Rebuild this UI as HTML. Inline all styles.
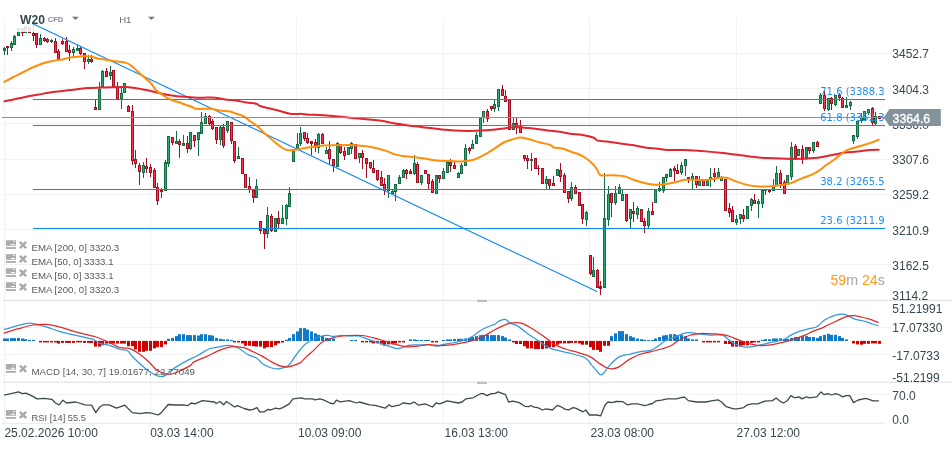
<!DOCTYPE html>
<html><head><meta charset="utf-8"><title>W20 CFD H1</title>
<style>
html,body{margin:0;padding:0;background:#fff;}
body{width:952px;height:449px;overflow:hidden;position:relative;font-family:"Liberation Sans",sans-serif;}
</style></head><body>
<svg width="952" height="449" viewBox="0 0 952 449" style="position:absolute;left:0;top:0;will-change:transform">
<rect width="952" height="449" fill="#fff"/>
<g stroke="#f0f2f4" stroke-width="1" shape-rendering="crispEdges">
<line x1="2" x2="891" y1="53.5" y2="53.5"/>
<line x1="2" x2="891" y1="88.5" y2="88.5"/>
<line x1="2" x2="891" y1="123.5" y2="123.5"/>
<line x1="2" x2="891" y1="159.5" y2="159.5"/>
<line x1="2" x2="891" y1="194.5" y2="194.5"/>
<line x1="2" x2="891" y1="229.5" y2="229.5"/>
<line x1="2" x2="891" y1="264.5" y2="264.5"/>
<line x1="4.5" x2="4.5" y1="18" y2="426.5"/>
<line x1="150.5" x2="150.5" y1="18" y2="426.5"/>
<line x1="296.5" x2="296.5" y1="18" y2="426.5"/>
<line x1="443.5" x2="443.5" y1="18" y2="426.5"/>
<line x1="589.5" x2="589.5" y1="18" y2="426.5"/>
<line x1="736.5" x2="736.5" y1="18" y2="426.5"/>
<line x1="2" x2="889.5" y1="327.5" y2="327.5"/>
<line x1="2" x2="889.5" y1="354.5" y2="354.5"/>
<line x1="2" x2="891" y1="394.5" y2="394.5"/>
</g>
<g fill="#dcdfe1">
<rect x="3" y="299.9" width="952" height="1"/>
<rect x="3" y="381.7" width="952" height="1"/>
<rect x="2" y="422.8" width="883.5" height="1.1" fill="#eaecee"/>
<rect x="477" y="299.8" width="10" height="2.2" fill="#bdbdbd"/>
<rect x="477" y="381.8" width="10" height="2.1" fill="#bdbdbd"/>
</g>
<g shape-rendering="crispEdges">
<rect x="4.0" y="47.10" width="1" height="7.60" fill="#146c43"/>
<rect x="3.0" y="47.50" width="3" height="3.40" fill="#146c43"/>
<rect x="4.0" y="48.50" width="1" height="1.40" fill="#27ad72"/>
<rect x="7.0" y="46.20" width="1" height="8.50" fill="#a50f24"/>
<rect x="6.0" y="46.20" width="3" height="2.20" fill="#a50f24"/>
<rect x="11.0" y="41.20" width="1" height="9.40" fill="#146c43"/>
<rect x="10.0" y="42.70" width="3" height="5.00" fill="#146c43"/>
<rect x="11.0" y="43.70" width="1" height="3.00" fill="#27ad72"/>
<rect x="14.0" y="35.10" width="1" height="10.10" fill="#146c43"/>
<rect x="13.0" y="35.80" width="3" height="9.40" fill="#146c43"/>
<rect x="14.0" y="36.80" width="1" height="7.40" fill="#27ad72"/>
<rect x="18.0" y="28.20" width="1" height="8.20" fill="#146c43"/>
<rect x="17.0" y="28.20" width="3" height="8.20" fill="#146c43"/>
<rect x="18.0" y="29.20" width="1" height="6.20" fill="#27ad72"/>
<rect x="22.0" y="28.20" width="1" height="7.60" fill="#a50f24"/>
<rect x="21.0" y="28.20" width="3" height="5.00" fill="#a50f24"/>
<rect x="22.0" y="29.20" width="1" height="3.00" fill="#ff2f47"/>
<rect x="25.0" y="26.30" width="1" height="6.90" fill="#146c43"/>
<rect x="24.0" y="26.30" width="3" height="6.90" fill="#146c43"/>
<rect x="25.0" y="27.30" width="1" height="4.90" fill="#27ad72"/>
<rect x="29.0" y="27.00" width="1" height="5.60" fill="#a50f24"/>
<rect x="28.0" y="27.00" width="3" height="5.60" fill="#a50f24"/>
<rect x="29.0" y="28.00" width="1" height="3.60" fill="#ff2f47"/>
<rect x="33.0" y="25.00" width="1" height="16.40" fill="#a50f24"/>
<rect x="32.0" y="32.60" width="3" height="3.20" fill="#a50f24"/>
<rect x="33.0" y="33.60" width="1" height="1.20" fill="#ff2f47"/>
<rect x="36.0" y="33.20" width="1" height="14.50" fill="#a50f24"/>
<rect x="35.0" y="33.20" width="3" height="11.40" fill="#a50f24"/>
<rect x="36.0" y="34.20" width="1" height="9.40" fill="#ff2f47"/>
<rect x="40.0" y="34.10" width="1" height="11.10" fill="#146c43"/>
<rect x="39.0" y="38.30" width="3" height="6.90" fill="#146c43"/>
<rect x="40.0" y="39.30" width="1" height="4.90" fill="#27ad72"/>
<rect x="44.0" y="37.00" width="1" height="4.50" fill="#a50f24"/>
<rect x="43.0" y="38.00" width="3" height="3.20" fill="#a50f24"/>
<rect x="44.0" y="39.00" width="1" height="1.20" fill="#ff2f47"/>
<rect x="47.0" y="37.70" width="1" height="5.00" fill="#a50f24"/>
<rect x="46.0" y="38.90" width="3" height="3.50" fill="#a50f24"/>
<rect x="47.0" y="39.90" width="1" height="1.50" fill="#ff2f47"/>
<rect x="51.0" y="38.90" width="1" height="3.80" fill="#146c43"/>
<rect x="50.0" y="39.90" width="3" height="2.50" fill="#146c43"/>
<rect x="51.0" y="40.90" width="1" height="0.50" fill="#27ad72"/>
<rect x="55.0" y="38.30" width="1" height="15.10" fill="#a50f24"/>
<rect x="54.0" y="40.80" width="3" height="12.60" fill="#a50f24"/>
<rect x="55.0" y="41.80" width="1" height="10.60" fill="#ff2f47"/>
<rect x="58.0" y="49.00" width="1" height="10.70" fill="#a50f24"/>
<rect x="57.0" y="50.90" width="3" height="8.80" fill="#a50f24"/>
<rect x="58.0" y="51.90" width="1" height="6.80" fill="#ff2f47"/>
<rect x="62.0" y="38.90" width="1" height="5.70" fill="#a50f24"/>
<rect x="61.0" y="40.80" width="3" height="3.20" fill="#a50f24"/>
<rect x="62.0" y="41.80" width="1" height="1.20" fill="#ff2f47"/>
<rect x="66.0" y="37.00" width="1" height="14.50" fill="#a50f24"/>
<rect x="65.0" y="40.80" width="3" height="10.70" fill="#a50f24"/>
<rect x="66.0" y="41.80" width="1" height="8.70" fill="#ff2f47"/>
<rect x="69.0" y="45.20" width="1" height="15.40" fill="#a50f24"/>
<rect x="68.0" y="50.30" width="3" height="3.10" fill="#a50f24"/>
<rect x="69.0" y="51.30" width="1" height="1.10" fill="#ff2f47"/>
<rect x="73.0" y="47.10" width="1" height="9.70" fill="#146c43"/>
<rect x="72.0" y="48.80" width="3" height="4.60" fill="#146c43"/>
<rect x="73.0" y="49.80" width="1" height="2.60" fill="#27ad72"/>
<rect x="77.0" y="45.20" width="1" height="5.40" fill="#146c43"/>
<rect x="76.0" y="48.00" width="3" height="2.60" fill="#146c43"/>
<rect x="77.0" y="49.00" width="1" height="0.60" fill="#27ad72"/>
<rect x="80.0" y="46.50" width="1" height="8.20" fill="#a50f24"/>
<rect x="79.0" y="47.50" width="3" height="6.50" fill="#a50f24"/>
<rect x="80.0" y="48.50" width="1" height="4.50" fill="#ff2f47"/>
<rect x="84.0" y="52.50" width="1" height="16.00" fill="#a50f24"/>
<rect x="83.0" y="52.50" width="3" height="9.10" fill="#a50f24"/>
<rect x="84.0" y="53.50" width="1" height="7.10" fill="#ff2f47"/>
<rect x="88.0" y="55.30" width="1" height="8.20" fill="#146c43"/>
<rect x="87.0" y="59.10" width="3" height="3.10" fill="#146c43"/>
<rect x="88.0" y="60.10" width="1" height="1.10" fill="#27ad72"/>
<rect x="91.0" y="55.30" width="1" height="7.60" fill="#a50f24"/>
<rect x="90.0" y="59.10" width="3" height="2.50" fill="#a50f24"/>
<rect x="91.0" y="60.10" width="1" height="0.50" fill="#ff2f47"/>
<rect x="95.0" y="100.30" width="1" height="9.30" fill="#a50f24"/>
<rect x="94.0" y="106.50" width="3" height="3.10" fill="#a50f24"/>
<rect x="95.0" y="107.50" width="1" height="1.10" fill="#ff2f47"/>
<rect x="99.0" y="82.10" width="1" height="27.50" fill="#146c43"/>
<rect x="98.0" y="89.00" width="3" height="20.60" fill="#146c43"/>
<rect x="99.0" y="90.00" width="1" height="18.60" fill="#27ad72"/>
<rect x="102.0" y="70.00" width="1" height="17.10" fill="#146c43"/>
<rect x="101.0" y="70.90" width="3" height="16.20" fill="#146c43"/>
<rect x="102.0" y="71.90" width="1" height="14.20" fill="#27ad72"/>
<rect x="106.0" y="68.00" width="1" height="8.50" fill="#a50f24"/>
<rect x="105.0" y="71.30" width="3" height="5.20" fill="#a50f24"/>
<rect x="106.0" y="72.30" width="1" height="3.20" fill="#ff2f47"/>
<rect x="110.0" y="65.90" width="1" height="13.70" fill="#146c43"/>
<rect x="109.0" y="71.50" width="3" height="4.00" fill="#146c43"/>
<rect x="110.0" y="72.50" width="1" height="2.00" fill="#27ad72"/>
<rect x="113.0" y="70.30" width="1" height="16.80" fill="#a50f24"/>
<rect x="112.0" y="70.30" width="3" height="16.80" fill="#a50f24"/>
<rect x="113.0" y="71.30" width="1" height="14.80" fill="#ff2f47"/>
<rect x="117.0" y="82.10" width="1" height="16.90" fill="#a50f24"/>
<rect x="116.0" y="85.90" width="3" height="13.10" fill="#a50f24"/>
<rect x="117.0" y="86.90" width="1" height="11.10" fill="#ff2f47"/>
<rect x="121.0" y="87.80" width="1" height="21.00" fill="#146c43"/>
<rect x="120.0" y="92.50" width="3" height="6.50" fill="#146c43"/>
<rect x="121.0" y="93.50" width="1" height="4.50" fill="#27ad72"/>
<rect x="124.0" y="82.50" width="1" height="10.90" fill="#146c43"/>
<rect x="123.0" y="82.50" width="3" height="10.90" fill="#146c43"/>
<rect x="124.0" y="83.50" width="1" height="8.90" fill="#27ad72"/>
<rect x="128.0" y="105.00" width="1" height="6.90" fill="#a50f24"/>
<rect x="127.0" y="105.60" width="3" height="6.30" fill="#a50f24"/>
<rect x="128.0" y="106.60" width="1" height="4.30" fill="#ff2f47"/>
<rect x="132.0" y="105.30" width="1" height="59.70" fill="#a50f24"/>
<rect x="131.0" y="111.30" width="3" height="49.30" fill="#a50f24"/>
<rect x="132.0" y="112.30" width="1" height="47.30" fill="#ff2f47"/>
<rect x="135.0" y="150.00" width="1" height="17.50" fill="#a50f24"/>
<rect x="134.0" y="159.40" width="3" height="5.00" fill="#a50f24"/>
<rect x="135.0" y="160.40" width="1" height="3.00" fill="#ff2f47"/>
<rect x="139.0" y="163.10" width="1" height="21.65" fill="#a50f24"/>
<rect x="138.0" y="165.00" width="3" height="6.90" fill="#a50f24"/>
<rect x="139.0" y="166.00" width="1" height="4.90" fill="#ff2f47"/>
<rect x="143.0" y="162.25" width="1" height="15.50" fill="#146c43"/>
<rect x="142.0" y="165.25" width="3" height="7.50" fill="#146c43"/>
<rect x="143.0" y="166.25" width="1" height="5.50" fill="#27ad72"/>
<rect x="146.0" y="158.10" width="1" height="14.65" fill="#a50f24"/>
<rect x="145.0" y="165.60" width="3" height="3.15" fill="#a50f24"/>
<rect x="146.0" y="166.60" width="1" height="1.15" fill="#ff2f47"/>
<rect x="150.0" y="164.00" width="1" height="12.90" fill="#a50f24"/>
<rect x="149.0" y="167.25" width="3" height="5.25" fill="#a50f24"/>
<rect x="150.0" y="168.25" width="1" height="3.25" fill="#ff2f47"/>
<rect x="154.0" y="168.10" width="1" height="19.40" fill="#a50f24"/>
<rect x="153.0" y="170.00" width="3" height="17.50" fill="#a50f24"/>
<rect x="154.0" y="171.00" width="1" height="15.50" fill="#ff2f47"/>
<rect x="157.0" y="183.10" width="1" height="21.65" fill="#a50f24"/>
<rect x="156.0" y="186.50" width="3" height="14.10" fill="#a50f24"/>
<rect x="157.0" y="187.50" width="1" height="12.10" fill="#ff2f47"/>
<rect x="161.0" y="188.10" width="1" height="9.65" fill="#a50f24"/>
<rect x="160.0" y="189.75" width="3" height="1.75" fill="#a50f24"/>
<rect x="165.0" y="160.25" width="1" height="30.35" fill="#146c43"/>
<rect x="164.0" y="162.25" width="3" height="28.35" fill="#146c43"/>
<rect x="165.0" y="163.25" width="1" height="26.35" fill="#27ad72"/>
<rect x="168.0" y="136.25" width="1" height="30.65" fill="#146c43"/>
<rect x="167.0" y="136.25" width="3" height="28.15" fill="#146c43"/>
<rect x="168.0" y="137.25" width="1" height="26.15" fill="#27ad72"/>
<rect x="172.0" y="137.25" width="1" height="7.50" fill="#a50f24"/>
<rect x="171.0" y="137.25" width="3" height="5.50" fill="#a50f24"/>
<rect x="172.0" y="138.25" width="1" height="3.50" fill="#ff2f47"/>
<rect x="176.0" y="131.00" width="1" height="12.75" fill="#146c43"/>
<rect x="175.0" y="141.25" width="3" height="2.50" fill="#146c43"/>
<rect x="176.0" y="142.25" width="1" height="0.50" fill="#27ad72"/>
<rect x="179.0" y="139.00" width="1" height="18.75" fill="#a50f24"/>
<rect x="178.0" y="141.00" width="3" height="3.75" fill="#a50f24"/>
<rect x="179.0" y="142.00" width="1" height="1.75" fill="#ff2f47"/>
<rect x="183.0" y="135.00" width="1" height="10.60" fill="#146c43"/>
<rect x="182.0" y="143.10" width="3" height="2.50" fill="#146c43"/>
<rect x="183.0" y="144.10" width="1" height="0.50" fill="#27ad72"/>
<rect x="187.0" y="136.25" width="1" height="16.25" fill="#a50f24"/>
<rect x="186.0" y="143.10" width="3" height="5.65" fill="#a50f24"/>
<rect x="187.0" y="144.10" width="1" height="3.65" fill="#ff2f47"/>
<rect x="190.0" y="132.25" width="1" height="17.50" fill="#146c43"/>
<rect x="189.0" y="132.25" width="3" height="16.50" fill="#146c43"/>
<rect x="190.0" y="133.25" width="1" height="14.50" fill="#27ad72"/>
<rect x="194.0" y="135.25" width="1" height="11.65" fill="#a50f24"/>
<rect x="193.0" y="135.25" width="3" height="5.35" fill="#a50f24"/>
<rect x="194.0" y="136.25" width="1" height="3.35" fill="#ff2f47"/>
<rect x="198.0" y="132.25" width="1" height="23.35" fill="#146c43"/>
<rect x="197.0" y="132.25" width="3" height="7.50" fill="#146c43"/>
<rect x="198.0" y="133.25" width="1" height="5.50" fill="#27ad72"/>
<rect x="201.0" y="111.90" width="1" height="21.60" fill="#146c43"/>
<rect x="200.0" y="122.25" width="3" height="11.25" fill="#146c43"/>
<rect x="201.0" y="123.25" width="1" height="9.25" fill="#27ad72"/>
<rect x="205.0" y="113.10" width="1" height="10.65" fill="#146c43"/>
<rect x="204.0" y="116.25" width="3" height="7.50" fill="#146c43"/>
<rect x="205.0" y="117.25" width="1" height="5.50" fill="#27ad72"/>
<rect x="209.0" y="115.00" width="1" height="10.00" fill="#a50f24"/>
<rect x="208.0" y="116.00" width="3" height="7.75" fill="#a50f24"/>
<rect x="209.0" y="117.00" width="1" height="5.75" fill="#ff2f47"/>
<rect x="212.0" y="119.00" width="1" height="11.00" fill="#a50f24"/>
<rect x="211.0" y="121.25" width="3" height="8.15" fill="#a50f24"/>
<rect x="212.0" y="122.25" width="1" height="6.15" fill="#ff2f47"/>
<rect x="216.0" y="127.25" width="1" height="16.50" fill="#a50f24"/>
<rect x="215.0" y="127.25" width="3" height="12.75" fill="#a50f24"/>
<rect x="216.0" y="128.25" width="1" height="10.75" fill="#ff2f47"/>
<rect x="220.0" y="125.60" width="1" height="19.40" fill="#146c43"/>
<rect x="219.0" y="127.25" width="3" height="12.50" fill="#146c43"/>
<rect x="220.0" y="128.25" width="1" height="10.50" fill="#27ad72"/>
<rect x="223.0" y="124.40" width="1" height="23.35" fill="#a50f24"/>
<rect x="222.0" y="127.25" width="3" height="18.35" fill="#a50f24"/>
<rect x="223.0" y="128.25" width="1" height="16.35" fill="#ff2f47"/>
<rect x="227.0" y="121.25" width="1" height="11.50" fill="#146c43"/>
<rect x="226.0" y="121.25" width="3" height="9.35" fill="#146c43"/>
<rect x="227.0" y="122.25" width="1" height="7.35" fill="#27ad72"/>
<rect x="231.0" y="122.25" width="1" height="21.50" fill="#a50f24"/>
<rect x="230.0" y="122.25" width="3" height="19.00" fill="#a50f24"/>
<rect x="231.0" y="123.25" width="1" height="17.00" fill="#ff2f47"/>
<rect x="234.0" y="141.25" width="1" height="21.25" fill="#a50f24"/>
<rect x="233.0" y="141.25" width="3" height="19.35" fill="#a50f24"/>
<rect x="234.0" y="142.25" width="1" height="17.35" fill="#ff2f47"/>
<rect x="238.0" y="147.25" width="1" height="12.15" fill="#146c43"/>
<rect x="237.0" y="156.25" width="3" height="3.15" fill="#146c43"/>
<rect x="238.0" y="157.25" width="1" height="1.15" fill="#27ad72"/>
<rect x="242.0" y="157.50" width="1" height="16.90" fill="#a50f24"/>
<rect x="241.0" y="157.50" width="3" height="16.90" fill="#a50f24"/>
<rect x="242.0" y="158.50" width="1" height="14.90" fill="#ff2f47"/>
<rect x="245.0" y="173.50" width="1" height="14.00" fill="#a50f24"/>
<rect x="244.0" y="173.50" width="3" height="14.00" fill="#a50f24"/>
<rect x="245.0" y="174.50" width="1" height="12.00" fill="#ff2f47"/>
<rect x="249.0" y="177.25" width="1" height="15.25" fill="#a50f24"/>
<rect x="248.0" y="186.25" width="3" height="3.50" fill="#a50f24"/>
<rect x="249.0" y="187.25" width="1" height="1.50" fill="#ff2f47"/>
<rect x="253.0" y="190.00" width="1" height="12.50" fill="#a50f24"/>
<rect x="252.0" y="190.00" width="3" height="7.50" fill="#a50f24"/>
<rect x="253.0" y="191.00" width="1" height="5.50" fill="#ff2f47"/>
<rect x="256.0" y="179.40" width="1" height="18.10" fill="#146c43"/>
<rect x="255.0" y="185.60" width="3" height="11.90" fill="#146c43"/>
<rect x="256.0" y="186.60" width="1" height="9.90" fill="#27ad72"/>
<rect x="260.0" y="221.25" width="1" height="12.50" fill="#a50f24"/>
<rect x="259.0" y="221.25" width="3" height="9.35" fill="#a50f24"/>
<rect x="260.0" y="222.25" width="1" height="7.35" fill="#ff2f47"/>
<rect x="264.0" y="229.40" width="1" height="19.35" fill="#a50f24"/>
<rect x="263.0" y="229.40" width="3" height="5.00" fill="#a50f24"/>
<rect x="264.0" y="230.40" width="1" height="3.00" fill="#ff2f47"/>
<rect x="267.0" y="206.90" width="1" height="30.60" fill="#146c43"/>
<rect x="266.0" y="215.00" width="3" height="19.40" fill="#146c43"/>
<rect x="267.0" y="216.00" width="1" height="17.40" fill="#27ad72"/>
<rect x="271.0" y="214.00" width="1" height="17.90" fill="#a50f24"/>
<rect x="270.0" y="216.25" width="3" height="14.35" fill="#a50f24"/>
<rect x="271.0" y="217.25" width="1" height="12.35" fill="#ff2f47"/>
<rect x="275.0" y="217.50" width="1" height="14.00" fill="#146c43"/>
<rect x="274.0" y="217.50" width="3" height="14.00" fill="#146c43"/>
<rect x="275.0" y="218.50" width="1" height="12.00" fill="#27ad72"/>
<rect x="278.0" y="211.00" width="1" height="16.75" fill="#a50f24"/>
<rect x="277.0" y="217.50" width="3" height="6.90" fill="#a50f24"/>
<rect x="278.0" y="218.50" width="1" height="4.90" fill="#ff2f47"/>
<rect x="282.0" y="205.00" width="1" height="19.40" fill="#146c43"/>
<rect x="281.0" y="218.10" width="3" height="6.30" fill="#146c43"/>
<rect x="282.0" y="219.10" width="1" height="4.30" fill="#27ad72"/>
<rect x="286.0" y="204.00" width="1" height="20.75" fill="#146c43"/>
<rect x="285.0" y="205.25" width="3" height="14.15" fill="#146c43"/>
<rect x="286.0" y="206.25" width="1" height="12.15" fill="#27ad72"/>
<rect x="289.0" y="187.25" width="1" height="19.25" fill="#146c43"/>
<rect x="288.0" y="192.50" width="3" height="14.00" fill="#146c43"/>
<rect x="289.0" y="193.50" width="1" height="12.00" fill="#27ad72"/>
<rect x="293.0" y="149.40" width="1" height="12.10" fill="#146c43"/>
<rect x="292.0" y="149.40" width="3" height="12.10" fill="#146c43"/>
<rect x="293.0" y="150.40" width="1" height="10.10" fill="#27ad72"/>
<rect x="297.0" y="133.10" width="1" height="16.30" fill="#146c43"/>
<rect x="296.0" y="143.50" width="3" height="5.90" fill="#146c43"/>
<rect x="297.0" y="144.50" width="1" height="3.90" fill="#27ad72"/>
<rect x="300.0" y="127.25" width="1" height="19.00" fill="#146c43"/>
<rect x="299.0" y="132.50" width="3" height="11.90" fill="#146c43"/>
<rect x="300.0" y="133.50" width="1" height="9.90" fill="#27ad72"/>
<rect x="304.0" y="132.25" width="1" height="8.35" fill="#a50f24"/>
<rect x="303.0" y="132.25" width="3" height="7.15" fill="#a50f24"/>
<rect x="304.0" y="133.25" width="1" height="5.15" fill="#ff2f47"/>
<rect x="307.0" y="133.10" width="1" height="10.40" fill="#a50f24"/>
<rect x="306.0" y="138.10" width="3" height="4.40" fill="#a50f24"/>
<rect x="307.0" y="139.10" width="1" height="2.40" fill="#ff2f47"/>
<rect x="311.0" y="141.25" width="1" height="13.50" fill="#a50f24"/>
<rect x="310.0" y="141.25" width="3" height="2.25" fill="#a50f24"/>
<rect x="315.0" y="139.00" width="1" height="12.50" fill="#a50f24"/>
<rect x="314.0" y="141.90" width="3" height="4.35" fill="#a50f24"/>
<rect x="315.0" y="142.90" width="1" height="2.35" fill="#ff2f47"/>
<rect x="318.0" y="132.75" width="1" height="19.75" fill="#146c43"/>
<rect x="317.0" y="133.75" width="3" height="14.35" fill="#146c43"/>
<rect x="318.0" y="134.75" width="1" height="12.35" fill="#27ad72"/>
<rect x="322.0" y="132.75" width="1" height="11.65" fill="#a50f24"/>
<rect x="321.0" y="133.75" width="3" height="10.65" fill="#a50f24"/>
<rect x="322.0" y="134.75" width="1" height="8.65" fill="#ff2f47"/>
<rect x="326.0" y="146.90" width="1" height="6.60" fill="#146c43"/>
<rect x="325.0" y="150.25" width="3" height="3.25" fill="#146c43"/>
<rect x="326.0" y="151.25" width="1" height="1.25" fill="#27ad72"/>
<rect x="329.0" y="141.00" width="1" height="22.75" fill="#a50f24"/>
<rect x="328.0" y="148.75" width="3" height="10.65" fill="#a50f24"/>
<rect x="329.0" y="149.75" width="1" height="8.65" fill="#ff2f47"/>
<rect x="333.0" y="159.00" width="1" height="12.90" fill="#a50f24"/>
<rect x="332.0" y="159.00" width="3" height="7.25" fill="#a50f24"/>
<rect x="333.0" y="160.00" width="1" height="5.25" fill="#ff2f47"/>
<rect x="337.0" y="141.90" width="1" height="25.35" fill="#146c43"/>
<rect x="336.0" y="143.10" width="3" height="24.15" fill="#146c43"/>
<rect x="337.0" y="144.10" width="1" height="22.15" fill="#27ad72"/>
<rect x="340.0" y="143.50" width="1" height="10.00" fill="#a50f24"/>
<rect x="339.0" y="143.50" width="3" height="9.00" fill="#a50f24"/>
<rect x="340.0" y="144.50" width="1" height="7.00" fill="#ff2f47"/>
<rect x="344.0" y="146.90" width="1" height="12.85" fill="#a50f24"/>
<rect x="343.0" y="151.25" width="3" height="4.75" fill="#a50f24"/>
<rect x="344.0" y="152.25" width="1" height="2.75" fill="#ff2f47"/>
<rect x="348.0" y="147.25" width="1" height="8.00" fill="#146c43"/>
<rect x="347.0" y="147.25" width="3" height="8.00" fill="#146c43"/>
<rect x="348.0" y="148.25" width="1" height="6.00" fill="#27ad72"/>
<rect x="351.0" y="141.90" width="1" height="11.85" fill="#146c43"/>
<rect x="350.0" y="143.10" width="3" height="6.30" fill="#146c43"/>
<rect x="351.0" y="144.10" width="1" height="4.30" fill="#27ad72"/>
<rect x="355.0" y="143.50" width="1" height="15.00" fill="#a50f24"/>
<rect x="354.0" y="143.50" width="3" height="15.00" fill="#a50f24"/>
<rect x="355.0" y="144.50" width="1" height="13.00" fill="#ff2f47"/>
<rect x="359.0" y="153.10" width="1" height="9.40" fill="#146c43"/>
<rect x="358.0" y="153.10" width="3" height="5.00" fill="#146c43"/>
<rect x="359.0" y="154.10" width="1" height="3.00" fill="#27ad72"/>
<rect x="362.0" y="150.00" width="1" height="18.75" fill="#a50f24"/>
<rect x="361.0" y="153.10" width="3" height="5.00" fill="#a50f24"/>
<rect x="362.0" y="154.10" width="1" height="3.00" fill="#ff2f47"/>
<rect x="366.0" y="157.50" width="1" height="20.25" fill="#a50f24"/>
<rect x="365.0" y="157.50" width="3" height="6.00" fill="#a50f24"/>
<rect x="366.0" y="158.50" width="1" height="4.00" fill="#ff2f47"/>
<rect x="370.0" y="162.25" width="1" height="7.15" fill="#a50f24"/>
<rect x="369.0" y="162.25" width="3" height="5.85" fill="#a50f24"/>
<rect x="370.0" y="163.25" width="1" height="3.85" fill="#ff2f47"/>
<rect x="373.0" y="160.00" width="1" height="12.50" fill="#a50f24"/>
<rect x="372.0" y="167.50" width="3" height="5.00" fill="#a50f24"/>
<rect x="373.0" y="168.50" width="1" height="3.00" fill="#ff2f47"/>
<rect x="377.0" y="170.25" width="1" height="10.75" fill="#a50f24"/>
<rect x="376.0" y="170.25" width="3" height="9.75" fill="#a50f24"/>
<rect x="377.0" y="171.25" width="1" height="7.75" fill="#ff2f47"/>
<rect x="381.0" y="171.00" width="1" height="14.60" fill="#a50f24"/>
<rect x="380.0" y="177.25" width="3" height="8.35" fill="#a50f24"/>
<rect x="381.0" y="178.25" width="1" height="6.35" fill="#ff2f47"/>
<rect x="384.0" y="178.10" width="1" height="16.65" fill="#a50f24"/>
<rect x="383.0" y="184.40" width="3" height="6.20" fill="#a50f24"/>
<rect x="384.0" y="185.40" width="1" height="4.20" fill="#ff2f47"/>
<rect x="388.0" y="175.00" width="1" height="22.50" fill="#146c43"/>
<rect x="387.0" y="175.00" width="3" height="15.60" fill="#146c43"/>
<rect x="388.0" y="176.00" width="1" height="13.60" fill="#27ad72"/>
<rect x="392.0" y="190.00" width="1" height="5.00" fill="#146c43"/>
<rect x="391.0" y="191.00" width="3" height="3.00" fill="#146c43"/>
<rect x="392.0" y="192.00" width="1" height="1.00" fill="#27ad72"/>
<rect x="395.0" y="184.40" width="1" height="16.60" fill="#146c43"/>
<rect x="394.0" y="184.40" width="3" height="7.10" fill="#146c43"/>
<rect x="395.0" y="185.40" width="1" height="5.10" fill="#27ad72"/>
<rect x="399.0" y="175.00" width="1" height="9.40" fill="#146c43"/>
<rect x="398.0" y="177.25" width="3" height="7.15" fill="#146c43"/>
<rect x="399.0" y="178.25" width="1" height="5.15" fill="#27ad72"/>
<rect x="403.0" y="169.00" width="1" height="8.50" fill="#146c43"/>
<rect x="402.0" y="170.00" width="3" height="7.50" fill="#146c43"/>
<rect x="403.0" y="171.00" width="1" height="5.50" fill="#27ad72"/>
<rect x="406.0" y="169.00" width="1" height="9.75" fill="#a50f24"/>
<rect x="405.0" y="170.25" width="3" height="3.50" fill="#a50f24"/>
<rect x="406.0" y="171.25" width="1" height="1.50" fill="#ff2f47"/>
<rect x="410.0" y="169.00" width="1" height="4.50" fill="#a50f24"/>
<rect x="409.0" y="171.00" width="3" height="2.50" fill="#a50f24"/>
<rect x="410.0" y="172.00" width="1" height="0.50" fill="#ff2f47"/>
<rect x="414.0" y="155.00" width="1" height="20.00" fill="#146c43"/>
<rect x="413.0" y="163.10" width="3" height="10.90" fill="#146c43"/>
<rect x="414.0" y="164.10" width="1" height="8.90" fill="#27ad72"/>
<rect x="417.0" y="161.90" width="1" height="20.60" fill="#a50f24"/>
<rect x="416.0" y="163.75" width="3" height="18.75" fill="#a50f24"/>
<rect x="417.0" y="164.75" width="1" height="16.75" fill="#ff2f47"/>
<rect x="421.0" y="175.00" width="1" height="9.75" fill="#146c43"/>
<rect x="420.0" y="175.00" width="3" height="7.75" fill="#146c43"/>
<rect x="421.0" y="176.00" width="1" height="5.75" fill="#27ad72"/>
<rect x="425.0" y="170.25" width="1" height="4.15" fill="#a50f24"/>
<rect x="424.0" y="170.25" width="3" height="4.15" fill="#a50f24"/>
<rect x="425.0" y="171.25" width="1" height="2.15" fill="#ff2f47"/>
<rect x="428.0" y="174.40" width="1" height="14.35" fill="#a50f24"/>
<rect x="427.0" y="174.40" width="3" height="9.35" fill="#a50f24"/>
<rect x="428.0" y="175.40" width="1" height="7.35" fill="#ff2f47"/>
<rect x="432.0" y="179.00" width="1" height="13.50" fill="#a50f24"/>
<rect x="431.0" y="181.25" width="3" height="11.25" fill="#a50f24"/>
<rect x="432.0" y="182.25" width="1" height="9.25" fill="#ff2f47"/>
<rect x="436.0" y="175.25" width="1" height="18.25" fill="#146c43"/>
<rect x="435.0" y="175.25" width="3" height="18.25" fill="#146c43"/>
<rect x="436.0" y="176.25" width="1" height="16.25" fill="#27ad72"/>
<rect x="439.0" y="175.25" width="1" height="7.25" fill="#a50f24"/>
<rect x="438.0" y="175.25" width="3" height="4.15" fill="#a50f24"/>
<rect x="439.0" y="176.25" width="1" height="2.15" fill="#ff2f47"/>
<rect x="443.0" y="168.10" width="1" height="11.30" fill="#146c43"/>
<rect x="442.0" y="171.00" width="3" height="8.40" fill="#146c43"/>
<rect x="443.0" y="172.00" width="1" height="6.40" fill="#27ad72"/>
<rect x="447.0" y="161.90" width="1" height="10.60" fill="#146c43"/>
<rect x="446.0" y="161.90" width="3" height="10.60" fill="#146c43"/>
<rect x="447.0" y="162.90" width="1" height="8.60" fill="#27ad72"/>
<rect x="450.0" y="159.00" width="1" height="12.90" fill="#a50f24"/>
<rect x="449.0" y="161.90" width="3" height="4.35" fill="#a50f24"/>
<rect x="450.0" y="162.90" width="1" height="2.35" fill="#ff2f47"/>
<rect x="454.0" y="161.90" width="1" height="6.60" fill="#a50f24"/>
<rect x="453.0" y="165.00" width="3" height="3.50" fill="#a50f24"/>
<rect x="454.0" y="166.00" width="1" height="1.50" fill="#ff2f47"/>
<rect x="458.0" y="171.90" width="1" height="5.60" fill="#146c43"/>
<rect x="457.0" y="173.10" width="3" height="4.40" fill="#146c43"/>
<rect x="458.0" y="174.10" width="1" height="2.40" fill="#27ad72"/>
<rect x="461.0" y="162.50" width="1" height="11.90" fill="#146c43"/>
<rect x="460.0" y="165.00" width="3" height="9.40" fill="#146c43"/>
<rect x="461.0" y="166.00" width="1" height="7.40" fill="#27ad72"/>
<rect x="465.0" y="144.00" width="1" height="21.50" fill="#146c43"/>
<rect x="464.0" y="148.10" width="3" height="17.40" fill="#146c43"/>
<rect x="465.0" y="149.10" width="1" height="15.40" fill="#27ad72"/>
<rect x="469.0" y="146.90" width="1" height="6.85" fill="#a50f24"/>
<rect x="468.0" y="148.10" width="3" height="2.50" fill="#a50f24"/>
<rect x="469.0" y="149.10" width="1" height="0.50" fill="#ff2f47"/>
<rect x="472.0" y="140.00" width="1" height="9.40" fill="#146c43"/>
<rect x="471.0" y="143.50" width="3" height="5.90" fill="#146c43"/>
<rect x="472.0" y="144.50" width="1" height="3.90" fill="#27ad72"/>
<rect x="476.0" y="131.90" width="1" height="12.50" fill="#146c43"/>
<rect x="475.0" y="135.25" width="3" height="9.15" fill="#146c43"/>
<rect x="476.0" y="136.25" width="1" height="7.15" fill="#27ad72"/>
<rect x="480.0" y="118.10" width="1" height="18.40" fill="#146c43"/>
<rect x="479.0" y="118.10" width="3" height="18.40" fill="#146c43"/>
<rect x="480.0" y="119.10" width="1" height="16.40" fill="#27ad72"/>
<rect x="483.0" y="111.00" width="1" height="11.50" fill="#146c43"/>
<rect x="482.0" y="111.00" width="3" height="6.50" fill="#146c43"/>
<rect x="483.0" y="112.00" width="1" height="4.50" fill="#27ad72"/>
<rect x="487.0" y="109.40" width="1" height="12.10" fill="#a50f24"/>
<rect x="486.0" y="111.25" width="3" height="8.15" fill="#a50f24"/>
<rect x="487.0" y="112.25" width="1" height="6.15" fill="#ff2f47"/>
<rect x="491.0" y="106.00" width="1" height="4.60" fill="#a50f24"/>
<rect x="490.0" y="106.00" width="3" height="2.75" fill="#a50f24"/>
<rect x="491.0" y="107.00" width="1" height="0.75" fill="#ff2f47"/>
<rect x="494.0" y="100.00" width="1" height="11.50" fill="#146c43"/>
<rect x="493.0" y="104.40" width="3" height="4.35" fill="#146c43"/>
<rect x="494.0" y="105.40" width="1" height="2.35" fill="#27ad72"/>
<rect x="498.0" y="89.40" width="1" height="21.20" fill="#146c43"/>
<rect x="497.0" y="89.40" width="3" height="17.10" fill="#146c43"/>
<rect x="498.0" y="90.40" width="1" height="15.10" fill="#27ad72"/>
<rect x="502.0" y="85.25" width="1" height="11.00" fill="#a50f24"/>
<rect x="501.0" y="89.00" width="3" height="7.25" fill="#a50f24"/>
<rect x="502.0" y="90.00" width="1" height="5.25" fill="#ff2f47"/>
<rect x="505.0" y="90.25" width="1" height="11.25" fill="#a50f24"/>
<rect x="504.0" y="95.60" width="3" height="5.90" fill="#a50f24"/>
<rect x="505.0" y="96.60" width="1" height="3.90" fill="#ff2f47"/>
<rect x="509.0" y="100.00" width="1" height="30.25" fill="#a50f24"/>
<rect x="508.0" y="100.00" width="3" height="30.25" fill="#a50f24"/>
<rect x="509.0" y="101.00" width="1" height="28.25" fill="#ff2f47"/>
<rect x="513.0" y="118.10" width="1" height="12.15" fill="#146c43"/>
<rect x="512.0" y="122.50" width="3" height="7.75" fill="#146c43"/>
<rect x="513.0" y="123.50" width="1" height="5.75" fill="#27ad72"/>
<rect x="516.0" y="118.10" width="1" height="15.40" fill="#a50f24"/>
<rect x="515.0" y="122.50" width="3" height="4.75" fill="#a50f24"/>
<rect x="516.0" y="123.50" width="1" height="2.75" fill="#ff2f47"/>
<rect x="520.0" y="120.25" width="1" height="13.05" fill="#a50f24"/>
<rect x="519.0" y="126.25" width="3" height="7.05" fill="#a50f24"/>
<rect x="520.0" y="127.25" width="1" height="5.05" fill="#ff2f47"/>
<rect x="524.0" y="155.25" width="1" height="5.35" fill="#a50f24"/>
<rect x="523.0" y="155.25" width="3" height="3.50" fill="#a50f24"/>
<rect x="524.0" y="156.25" width="1" height="1.50" fill="#ff2f47"/>
<rect x="527.0" y="155.00" width="1" height="13.75" fill="#a50f24"/>
<rect x="526.0" y="157.75" width="3" height="2.85" fill="#a50f24"/>
<rect x="527.0" y="158.75" width="1" height="0.85" fill="#ff2f47"/>
<rect x="531.0" y="153.10" width="1" height="17.50" fill="#146c43"/>
<rect x="530.0" y="158.50" width="3" height="2.10" fill="#146c43"/>
<rect x="535.0" y="158.10" width="1" height="10.40" fill="#a50f24"/>
<rect x="534.0" y="158.10" width="3" height="10.40" fill="#a50f24"/>
<rect x="535.0" y="159.10" width="1" height="8.40" fill="#ff2f47"/>
<rect x="538.0" y="165.00" width="1" height="9.60" fill="#a50f24"/>
<rect x="537.0" y="167.50" width="3" height="1.90" fill="#a50f24"/>
<rect x="542.0" y="168.10" width="1" height="16.30" fill="#a50f24"/>
<rect x="541.0" y="168.10" width="3" height="16.30" fill="#a50f24"/>
<rect x="542.0" y="169.10" width="1" height="14.30" fill="#ff2f47"/>
<rect x="546.0" y="176.25" width="1" height="12.75" fill="#146c43"/>
<rect x="545.0" y="179.40" width="3" height="4.35" fill="#146c43"/>
<rect x="546.0" y="180.40" width="1" height="2.35" fill="#27ad72"/>
<rect x="549.0" y="179.00" width="1" height="10.00" fill="#a50f24"/>
<rect x="548.0" y="179.00" width="3" height="6.60" fill="#a50f24"/>
<rect x="549.0" y="180.00" width="1" height="4.60" fill="#ff2f47"/>
<rect x="553.0" y="176.00" width="1" height="9.60" fill="#a50f24"/>
<rect x="552.0" y="183.10" width="3" height="2.50" fill="#a50f24"/>
<rect x="553.0" y="184.10" width="1" height="0.50" fill="#ff2f47"/>
<rect x="557.0" y="169.20" width="1" height="6.30" fill="#146c43"/>
<rect x="556.0" y="169.20" width="3" height="6.30" fill="#146c43"/>
<rect x="557.0" y="170.20" width="1" height="4.30" fill="#27ad72"/>
<rect x="560.0" y="163.10" width="1" height="18.40" fill="#a50f24"/>
<rect x="559.0" y="170.25" width="3" height="6.25" fill="#a50f24"/>
<rect x="560.0" y="171.25" width="1" height="4.25" fill="#ff2f47"/>
<rect x="564.0" y="173.10" width="1" height="19.40" fill="#a50f24"/>
<rect x="563.0" y="175.00" width="3" height="17.50" fill="#a50f24"/>
<rect x="564.0" y="176.00" width="1" height="15.50" fill="#ff2f47"/>
<rect x="568.0" y="190.60" width="1" height="12.15" fill="#a50f24"/>
<rect x="567.0" y="190.60" width="3" height="8.15" fill="#a50f24"/>
<rect x="568.0" y="191.60" width="1" height="6.15" fill="#ff2f47"/>
<rect x="571.0" y="182.25" width="1" height="18.35" fill="#146c43"/>
<rect x="570.0" y="187.25" width="3" height="11.25" fill="#146c43"/>
<rect x="571.0" y="188.25" width="1" height="9.25" fill="#27ad72"/>
<rect x="575.0" y="185.25" width="1" height="8.25" fill="#a50f24"/>
<rect x="574.0" y="187.25" width="3" height="6.25" fill="#a50f24"/>
<rect x="575.0" y="188.25" width="1" height="4.25" fill="#ff2f47"/>
<rect x="579.0" y="192.25" width="1" height="13.25" fill="#a50f24"/>
<rect x="578.0" y="192.25" width="3" height="13.25" fill="#a50f24"/>
<rect x="579.0" y="193.25" width="1" height="11.25" fill="#ff2f47"/>
<rect x="582.0" y="204.40" width="1" height="19.35" fill="#a50f24"/>
<rect x="581.0" y="204.40" width="3" height="14.35" fill="#a50f24"/>
<rect x="582.0" y="205.40" width="1" height="12.35" fill="#ff2f47"/>
<rect x="586.0" y="210.60" width="1" height="15.00" fill="#146c43"/>
<rect x="585.0" y="211.90" width="3" height="7.85" fill="#146c43"/>
<rect x="586.0" y="212.90" width="1" height="5.85" fill="#27ad72"/>
<rect x="590.0" y="255.25" width="1" height="19.75" fill="#a50f24"/>
<rect x="589.0" y="255.25" width="3" height="18.50" fill="#a50f24"/>
<rect x="590.0" y="256.25" width="1" height="16.50" fill="#ff2f47"/>
<rect x="593.0" y="256.90" width="1" height="19.60" fill="#146c43"/>
<rect x="592.0" y="270.25" width="3" height="6.25" fill="#146c43"/>
<rect x="593.0" y="271.25" width="1" height="4.25" fill="#27ad72"/>
<rect x="597.0" y="268.75" width="1" height="18.75" fill="#a50f24"/>
<rect x="596.0" y="270.00" width="3" height="17.50" fill="#a50f24"/>
<rect x="597.0" y="271.00" width="1" height="15.50" fill="#ff2f47"/>
<rect x="600.0" y="281.25" width="1" height="13.50" fill="#a50f24"/>
<rect x="599.0" y="286.25" width="3" height="2.25" fill="#a50f24"/>
<rect x="604.0" y="173.10" width="1" height="114.40" fill="#146c43"/>
<rect x="603.0" y="218.10" width="3" height="69.40" fill="#146c43"/>
<rect x="604.0" y="219.10" width="1" height="67.40" fill="#27ad72"/>
<rect x="608.0" y="186.25" width="1" height="39.35" fill="#146c43"/>
<rect x="607.0" y="194.00" width="3" height="26.25" fill="#146c43"/>
<rect x="608.0" y="195.00" width="1" height="24.25" fill="#27ad72"/>
<rect x="611.0" y="192.75" width="1" height="24.15" fill="#a50f24"/>
<rect x="610.0" y="192.75" width="3" height="9.75" fill="#a50f24"/>
<rect x="611.0" y="193.75" width="1" height="7.75" fill="#ff2f47"/>
<rect x="615.0" y="186.25" width="1" height="18.50" fill="#146c43"/>
<rect x="614.0" y="193.10" width="3" height="9.40" fill="#146c43"/>
<rect x="615.0" y="194.10" width="1" height="7.40" fill="#27ad72"/>
<rect x="619.0" y="184.00" width="1" height="9.75" fill="#146c43"/>
<rect x="618.0" y="186.90" width="3" height="6.85" fill="#146c43"/>
<rect x="619.0" y="187.90" width="1" height="4.85" fill="#27ad72"/>
<rect x="622.0" y="189.40" width="1" height="11.20" fill="#146c43"/>
<rect x="621.0" y="194.00" width="3" height="6.60" fill="#146c43"/>
<rect x="622.0" y="195.00" width="1" height="4.60" fill="#27ad72"/>
<rect x="626.0" y="194.00" width="1" height="27.50" fill="#a50f24"/>
<rect x="625.0" y="194.00" width="3" height="26.60" fill="#a50f24"/>
<rect x="626.0" y="195.00" width="1" height="24.60" fill="#ff2f47"/>
<rect x="630.0" y="209.40" width="1" height="18.70" fill="#146c43"/>
<rect x="629.0" y="209.40" width="3" height="10.00" fill="#146c43"/>
<rect x="630.0" y="210.40" width="1" height="8.00" fill="#27ad72"/>
<rect x="633.0" y="202.25" width="1" height="19.25" fill="#a50f24"/>
<rect x="632.0" y="210.60" width="3" height="3.80" fill="#a50f24"/>
<rect x="633.0" y="211.60" width="1" height="1.80" fill="#ff2f47"/>
<rect x="637.0" y="206.00" width="1" height="12.75" fill="#146c43"/>
<rect x="636.0" y="208.10" width="3" height="6.65" fill="#146c43"/>
<rect x="637.0" y="209.10" width="1" height="4.65" fill="#27ad72"/>
<rect x="641.0" y="208.50" width="1" height="13.00" fill="#a50f24"/>
<rect x="640.0" y="208.50" width="3" height="13.00" fill="#a50f24"/>
<rect x="641.0" y="209.50" width="1" height="11.00" fill="#ff2f47"/>
<rect x="644.0" y="217.50" width="1" height="15.25" fill="#a50f24"/>
<rect x="643.0" y="221.25" width="3" height="4.35" fill="#a50f24"/>
<rect x="644.0" y="222.25" width="1" height="2.35" fill="#ff2f47"/>
<rect x="648.0" y="208.10" width="1" height="19.65" fill="#146c43"/>
<rect x="647.0" y="211.25" width="3" height="14.35" fill="#146c43"/>
<rect x="648.0" y="212.25" width="1" height="12.35" fill="#27ad72"/>
<rect x="652.0" y="202.25" width="1" height="12.50" fill="#a50f24"/>
<rect x="651.0" y="211.25" width="3" height="3.50" fill="#a50f24"/>
<rect x="652.0" y="212.25" width="1" height="1.50" fill="#ff2f47"/>
<rect x="655.0" y="189.75" width="1" height="12.75" fill="#146c43"/>
<rect x="654.0" y="189.75" width="3" height="12.75" fill="#146c43"/>
<rect x="655.0" y="190.75" width="1" height="10.75" fill="#27ad72"/>
<rect x="659.0" y="182.25" width="1" height="9.65" fill="#146c43"/>
<rect x="658.0" y="187.50" width="3" height="3.50" fill="#146c43"/>
<rect x="659.0" y="188.50" width="1" height="1.50" fill="#27ad72"/>
<rect x="663.0" y="177.25" width="1" height="15.50" fill="#146c43"/>
<rect x="662.0" y="177.25" width="3" height="13.35" fill="#146c43"/>
<rect x="663.0" y="178.25" width="1" height="11.35" fill="#27ad72"/>
<rect x="666.0" y="174.40" width="1" height="7.10" fill="#146c43"/>
<rect x="665.0" y="174.40" width="3" height="3.35" fill="#146c43"/>
<rect x="666.0" y="175.40" width="1" height="1.35" fill="#27ad72"/>
<rect x="670.0" y="167.75" width="1" height="8.75" fill="#146c43"/>
<rect x="669.0" y="168.75" width="3" height="7.75" fill="#146c43"/>
<rect x="670.0" y="169.75" width="1" height="5.75" fill="#27ad72"/>
<rect x="674.0" y="166.00" width="1" height="15.00" fill="#a50f24"/>
<rect x="673.0" y="168.10" width="3" height="2.50" fill="#a50f24"/>
<rect x="674.0" y="169.10" width="1" height="0.50" fill="#ff2f47"/>
<rect x="677.0" y="164.00" width="1" height="9.75" fill="#a50f24"/>
<rect x="676.0" y="170.00" width="3" height="3.75" fill="#a50f24"/>
<rect x="677.0" y="171.00" width="1" height="1.75" fill="#ff2f47"/>
<rect x="681.0" y="162.25" width="1" height="12.50" fill="#146c43"/>
<rect x="680.0" y="165.25" width="3" height="7.85" fill="#146c43"/>
<rect x="681.0" y="166.25" width="1" height="5.85" fill="#27ad72"/>
<rect x="685.0" y="159.40" width="1" height="16.20" fill="#146c43"/>
<rect x="684.0" y="159.40" width="3" height="6.20" fill="#146c43"/>
<rect x="685.0" y="160.40" width="1" height="4.20" fill="#27ad72"/>
<rect x="688.0" y="177.25" width="1" height="5.50" fill="#a50f24"/>
<rect x="687.0" y="177.25" width="3" height="1.75" fill="#a50f24"/>
<rect x="692.0" y="173.10" width="1" height="15.90" fill="#146c43"/>
<rect x="691.0" y="176.25" width="3" height="2.75" fill="#146c43"/>
<rect x="692.0" y="177.25" width="1" height="0.75" fill="#27ad72"/>
<rect x="696.0" y="176.25" width="1" height="11.25" fill="#a50f24"/>
<rect x="695.0" y="176.25" width="3" height="8.75" fill="#a50f24"/>
<rect x="696.0" y="177.25" width="1" height="6.75" fill="#ff2f47"/>
<rect x="699.0" y="176.25" width="1" height="9.35" fill="#146c43"/>
<rect x="698.0" y="179.40" width="3" height="6.20" fill="#146c43"/>
<rect x="699.0" y="180.40" width="1" height="4.20" fill="#27ad72"/>
<rect x="703.0" y="178.50" width="1" height="7.10" fill="#a50f24"/>
<rect x="702.0" y="178.50" width="3" height="7.10" fill="#a50f24"/>
<rect x="703.0" y="179.50" width="1" height="5.10" fill="#ff2f47"/>
<rect x="707.0" y="180.00" width="1" height="6.25" fill="#146c43"/>
<rect x="706.0" y="180.00" width="3" height="6.25" fill="#146c43"/>
<rect x="707.0" y="181.00" width="1" height="4.25" fill="#27ad72"/>
<rect x="710.0" y="168.10" width="1" height="18.80" fill="#146c43"/>
<rect x="709.0" y="177.25" width="3" height="2.75" fill="#146c43"/>
<rect x="710.0" y="178.25" width="1" height="0.75" fill="#27ad72"/>
<rect x="714.0" y="168.10" width="1" height="13.40" fill="#a50f24"/>
<rect x="713.0" y="173.10" width="3" height="3.80" fill="#a50f24"/>
<rect x="714.0" y="174.10" width="1" height="1.80" fill="#ff2f47"/>
<rect x="718.0" y="168.10" width="1" height="8.80" fill="#146c43"/>
<rect x="717.0" y="172.25" width="3" height="4.65" fill="#146c43"/>
<rect x="718.0" y="173.25" width="1" height="2.65" fill="#27ad72"/>
<rect x="721.0" y="176.00" width="1" height="4.60" fill="#146c43"/>
<rect x="720.0" y="177.25" width="3" height="3.35" fill="#146c43"/>
<rect x="721.0" y="178.25" width="1" height="1.35" fill="#27ad72"/>
<rect x="725.0" y="179.00" width="1" height="31.60" fill="#a50f24"/>
<rect x="724.0" y="179.00" width="3" height="31.60" fill="#a50f24"/>
<rect x="725.0" y="180.00" width="1" height="29.60" fill="#ff2f47"/>
<rect x="729.0" y="203.10" width="1" height="13.80" fill="#a50f24"/>
<rect x="728.0" y="208.10" width="3" height="4.40" fill="#a50f24"/>
<rect x="729.0" y="209.10" width="1" height="2.40" fill="#ff2f47"/>
<rect x="732.0" y="206.00" width="1" height="15.50" fill="#a50f24"/>
<rect x="731.0" y="210.25" width="3" height="11.25" fill="#a50f24"/>
<rect x="732.0" y="211.25" width="1" height="9.25" fill="#ff2f47"/>
<rect x="736.0" y="215.25" width="1" height="9.50" fill="#146c43"/>
<rect x="735.0" y="219.00" width="3" height="3.75" fill="#146c43"/>
<rect x="736.0" y="220.00" width="1" height="1.75" fill="#27ad72"/>
<rect x="740.0" y="214.40" width="1" height="9.35" fill="#146c43"/>
<rect x="739.0" y="214.40" width="3" height="5.00" fill="#146c43"/>
<rect x="740.0" y="215.40" width="1" height="3.00" fill="#27ad72"/>
<rect x="743.0" y="209.00" width="1" height="12.90" fill="#a50f24"/>
<rect x="742.0" y="215.25" width="3" height="3.25" fill="#a50f24"/>
<rect x="743.0" y="216.25" width="1" height="1.25" fill="#ff2f47"/>
<rect x="747.0" y="205.60" width="1" height="13.80" fill="#146c43"/>
<rect x="746.0" y="205.60" width="3" height="13.80" fill="#146c43"/>
<rect x="747.0" y="206.60" width="1" height="11.80" fill="#27ad72"/>
<rect x="751.0" y="198.10" width="1" height="12.50" fill="#146c43"/>
<rect x="750.0" y="198.75" width="3" height="7.50" fill="#146c43"/>
<rect x="751.0" y="199.75" width="1" height="5.50" fill="#27ad72"/>
<rect x="754.0" y="194.00" width="1" height="10.00" fill="#a50f24"/>
<rect x="753.0" y="200.25" width="3" height="3.75" fill="#a50f24"/>
<rect x="754.0" y="201.25" width="1" height="1.75" fill="#ff2f47"/>
<rect x="758.0" y="199.00" width="1" height="18.75" fill="#146c43"/>
<rect x="757.0" y="201.00" width="3" height="2.50" fill="#146c43"/>
<rect x="758.0" y="202.00" width="1" height="0.50" fill="#27ad72"/>
<rect x="762.0" y="190.00" width="1" height="17.75" fill="#146c43"/>
<rect x="761.0" y="190.00" width="3" height="13.50" fill="#146c43"/>
<rect x="762.0" y="191.00" width="1" height="11.50" fill="#27ad72"/>
<rect x="765.0" y="190.00" width="1" height="4.75" fill="#146c43"/>
<rect x="764.0" y="190.00" width="3" height="1.25" fill="#146c43"/>
<rect x="769.0" y="190.00" width="1" height="2.75" fill="#a50f24"/>
<rect x="768.0" y="190.00" width="3" height="1.90" fill="#a50f24"/>
<rect x="773.0" y="179.00" width="1" height="11.60" fill="#146c43"/>
<rect x="772.0" y="185.60" width="3" height="5.00" fill="#146c43"/>
<rect x="773.0" y="186.60" width="1" height="3.00" fill="#27ad72"/>
<rect x="776.0" y="166.25" width="1" height="19.35" fill="#146c43"/>
<rect x="775.0" y="173.10" width="3" height="12.50" fill="#146c43"/>
<rect x="776.0" y="174.10" width="1" height="10.50" fill="#27ad72"/>
<rect x="780.0" y="170.25" width="1" height="17.25" fill="#a50f24"/>
<rect x="779.0" y="173.10" width="3" height="11.30" fill="#a50f24"/>
<rect x="780.0" y="174.10" width="1" height="9.30" fill="#ff2f47"/>
<rect x="784.0" y="180.00" width="1" height="13.75" fill="#a50f24"/>
<rect x="783.0" y="182.25" width="3" height="11.50" fill="#a50f24"/>
<rect x="784.0" y="183.25" width="1" height="9.50" fill="#ff2f47"/>
<rect x="787.0" y="175.25" width="1" height="10.00" fill="#146c43"/>
<rect x="786.0" y="175.25" width="3" height="10.00" fill="#146c43"/>
<rect x="787.0" y="176.25" width="1" height="8.00" fill="#27ad72"/>
<rect x="791.0" y="142.25" width="1" height="37.50" fill="#146c43"/>
<rect x="790.0" y="147.25" width="3" height="29.65" fill="#146c43"/>
<rect x="791.0" y="148.25" width="1" height="27.65" fill="#27ad72"/>
<rect x="795.0" y="144.00" width="1" height="13.50" fill="#a50f24"/>
<rect x="794.0" y="146.25" width="3" height="11.25" fill="#a50f24"/>
<rect x="795.0" y="147.25" width="1" height="9.25" fill="#ff2f47"/>
<rect x="798.0" y="149.40" width="1" height="6.20" fill="#146c43"/>
<rect x="797.0" y="149.40" width="3" height="6.20" fill="#146c43"/>
<rect x="798.0" y="150.40" width="1" height="4.20" fill="#27ad72"/>
<rect x="802.0" y="145.00" width="1" height="18.75" fill="#a50f24"/>
<rect x="801.0" y="149.40" width="3" height="10.35" fill="#a50f24"/>
<rect x="802.0" y="150.40" width="1" height="8.35" fill="#ff2f47"/>
<rect x="806.0" y="147.25" width="1" height="12.75" fill="#146c43"/>
<rect x="805.0" y="147.25" width="3" height="10.25" fill="#146c43"/>
<rect x="806.0" y="148.25" width="1" height="8.25" fill="#27ad72"/>
<rect x="809.0" y="147.25" width="1" height="7.15" fill="#a50f24"/>
<rect x="808.0" y="147.25" width="3" height="3.35" fill="#a50f24"/>
<rect x="809.0" y="148.25" width="1" height="1.35" fill="#ff2f47"/>
<rect x="813.0" y="142.25" width="1" height="10.50" fill="#146c43"/>
<rect x="812.0" y="142.25" width="3" height="8.35" fill="#146c43"/>
<rect x="813.0" y="143.25" width="1" height="6.35" fill="#27ad72"/>
<rect x="817.0" y="141.00" width="1" height="5.50" fill="#a50f24"/>
<rect x="816.0" y="142.25" width="3" height="4.25" fill="#a50f24"/>
<rect x="817.0" y="143.25" width="1" height="2.25" fill="#ff2f47"/>
<rect x="820.0" y="93.00" width="1" height="10.90" fill="#146c43"/>
<rect x="819.0" y="95.10" width="3" height="8.80" fill="#146c43"/>
<rect x="820.0" y="96.10" width="1" height="6.80" fill="#27ad72"/>
<rect x="824.0" y="91.40" width="1" height="19.35" fill="#a50f24"/>
<rect x="823.0" y="94.50" width="3" height="14.40" fill="#a50f24"/>
<rect x="824.0" y="95.50" width="1" height="12.40" fill="#ff2f47"/>
<rect x="828.0" y="98.25" width="1" height="12.50" fill="#146c43"/>
<rect x="827.0" y="98.25" width="3" height="11.25" fill="#146c43"/>
<rect x="828.0" y="99.25" width="1" height="9.25" fill="#27ad72"/>
<rect x="831.0" y="97.00" width="1" height="12.75" fill="#a50f24"/>
<rect x="830.0" y="98.25" width="3" height="5.25" fill="#a50f24"/>
<rect x="831.0" y="99.25" width="1" height="3.25" fill="#ff2f47"/>
<rect x="835.0" y="95.10" width="1" height="11.30" fill="#146c43"/>
<rect x="834.0" y="95.10" width="3" height="9.65" fill="#146c43"/>
<rect x="835.0" y="96.10" width="1" height="7.65" fill="#27ad72"/>
<rect x="839.0" y="93.00" width="1" height="7.50" fill="#a50f24"/>
<rect x="838.0" y="94.50" width="3" height="3.75" fill="#a50f24"/>
<rect x="839.0" y="95.50" width="1" height="1.75" fill="#ff2f47"/>
<rect x="842.0" y="97.00" width="1" height="10.60" fill="#a50f24"/>
<rect x="841.0" y="98.00" width="3" height="9.60" fill="#a50f24"/>
<rect x="842.0" y="99.00" width="1" height="7.60" fill="#ff2f47"/>
<rect x="846.0" y="97.25" width="1" height="10.35" fill="#146c43"/>
<rect x="845.0" y="104.50" width="3" height="3.10" fill="#146c43"/>
<rect x="846.0" y="105.50" width="1" height="1.10" fill="#27ad72"/>
<rect x="850.0" y="101.00" width="1" height="8.50" fill="#146c43"/>
<rect x="849.0" y="102.00" width="3" height="3.75" fill="#146c43"/>
<rect x="850.0" y="103.00" width="1" height="1.75" fill="#27ad72"/>
<rect x="853.0" y="135.25" width="1" height="8.50" fill="#146c43"/>
<rect x="852.0" y="135.25" width="3" height="5.75" fill="#146c43"/>
<rect x="853.0" y="136.25" width="1" height="3.75" fill="#27ad72"/>
<rect x="857.0" y="120.50" width="1" height="18.25" fill="#146c43"/>
<rect x="856.0" y="120.50" width="3" height="16.25" fill="#146c43"/>
<rect x="857.0" y="121.50" width="1" height="14.25" fill="#27ad72"/>
<rect x="861.0" y="112.60" width="1" height="10.00" fill="#146c43"/>
<rect x="860.0" y="117.00" width="3" height="3.75" fill="#146c43"/>
<rect x="861.0" y="118.00" width="1" height="1.75" fill="#27ad72"/>
<rect x="864.0" y="111.40" width="1" height="10.00" fill="#146c43"/>
<rect x="863.0" y="111.40" width="3" height="8.10" fill="#146c43"/>
<rect x="864.0" y="112.40" width="1" height="6.10" fill="#27ad72"/>
<rect x="868.0" y="109.25" width="1" height="5.25" fill="#146c43"/>
<rect x="867.0" y="109.25" width="3" height="4.00" fill="#146c43"/>
<rect x="868.0" y="110.25" width="1" height="2.00" fill="#27ad72"/>
<rect x="872.0" y="107.00" width="1" height="18.10" fill="#a50f24"/>
<rect x="871.0" y="108.25" width="3" height="15.00" fill="#a50f24"/>
<rect x="872.0" y="109.25" width="1" height="13.00" fill="#ff2f47"/>
<rect x="875.0" y="112.00" width="1" height="13.10" fill="#146c43"/>
<rect x="874.0" y="116.00" width="3" height="7.90" fill="#146c43"/>
<rect x="875.0" y="117.00" width="1" height="5.90" fill="#27ad72"/>
<rect x="879.0" y="116.00" width="1" height="2.50" fill="#a50f24"/>
<rect x="878.0" y="116.00" width="3" height="2.50" fill="#a50f24"/>
<rect x="879.0" y="117.00" width="1" height="0.50" fill="#ff2f47"/>
</g>
<rect x="5" y="6" width="146.5" height="26" fill="#fff" fill-opacity="0.85"/>
<g stroke="#0f88f6" stroke-width="1" fill="none" shape-rendering="crispEdges">
<line x1="32.5" x2="884.8" y1="99.5" y2="99.5"/>
<line x1="32.5" x2="884.8" y1="125.5" y2="125.5"/>
<line x1="32.5" x2="884.8" y1="189.5" y2="189.5"/>
<line x1="32.5" x2="884.8" y1="228.5" y2="228.5"/>
</g>
<line x1="32.3" y1="23.4" x2="597" y2="291.6" stroke="#0f88f6" stroke-width="1.1"/>
<path d="M4.40,101.25C5.75,101.00 9.07,100.47 12.50,99.75C15.93,99.03 20.83,97.73 25.00,96.90C29.17,96.07 33.33,95.48 37.50,94.75C41.67,94.02 45.83,93.12 50.00,92.50C54.17,91.88 58.33,91.52 62.50,91.00C66.67,90.48 70.83,89.88 75.00,89.40C79.17,88.92 83.33,88.40 87.50,88.10C91.67,87.80 95.83,87.73 100.00,87.60C104.17,87.47 108.25,87.38 112.50,87.30C116.75,87.22 121.25,86.92 125.50,87.10C129.75,87.28 133.83,87.77 138.00,88.40C142.17,89.03 146.33,89.97 150.50,90.90C154.67,91.83 158.83,93.17 163.00,94.00C167.17,94.83 171.33,95.38 175.50,95.90C179.67,96.42 184.46,96.78 188.00,97.10C191.54,97.42 193.58,97.72 196.75,97.80C199.92,97.88 203.96,97.61 207.00,97.60C210.04,97.59 212.00,97.45 215.00,97.75C218.00,98.05 221.46,98.93 225.00,99.40C228.54,99.88 232.71,100.08 236.25,100.60C239.79,101.12 242.92,101.97 246.25,102.50C249.58,103.03 253.96,103.17 256.25,103.75C258.54,104.33 257.71,105.21 260.00,106.00C262.29,106.79 266.67,107.67 270.00,108.50C273.33,109.33 276.67,110.12 280.00,111.00C283.33,111.88 286.25,113.27 290.00,113.75C293.75,114.23 299.38,113.73 302.50,113.90C305.62,114.07 305.17,114.53 308.75,114.75C312.33,114.97 317.46,114.74 324.00,115.20C330.54,115.66 338.67,116.62 348.00,117.50C357.33,118.38 372.58,119.57 380.00,120.50C387.42,121.43 388.33,122.35 392.50,123.10C396.67,123.85 400.83,124.43 405.00,125.00C409.17,125.57 413.33,125.98 417.50,126.50C421.67,127.02 425.83,127.62 430.00,128.10C434.17,128.58 438.33,128.98 442.50,129.40C446.67,129.82 450.83,130.33 455.00,130.60C459.17,130.87 463.33,131.00 467.50,131.00C471.67,131.00 475.83,130.80 480.00,130.60C484.17,130.40 488.54,130.15 492.50,129.80C496.46,129.45 499.83,128.92 503.75,128.50C507.67,128.08 511.83,127.37 516.00,127.30C520.17,127.23 523.50,127.58 528.75,128.10C534.00,128.62 542.29,129.78 547.50,130.40C552.71,131.02 556.25,131.24 560.00,131.80C563.75,132.36 566.25,133.22 570.00,133.75C573.75,134.28 578.54,134.33 582.50,135.00C586.46,135.67 591.25,136.82 593.75,137.75C596.25,138.68 595.21,139.97 597.50,140.60C599.79,141.22 603.75,141.02 607.50,141.50C611.25,141.98 615.83,142.92 620.00,143.50C624.17,144.08 628.33,144.33 632.50,145.00C636.67,145.67 640.83,146.88 645.00,147.50C649.17,148.12 653.75,148.33 657.50,148.75C661.25,149.17 663.33,149.81 667.50,150.00C671.67,150.19 677.42,149.77 682.50,149.90C687.58,150.03 691.25,150.27 698.00,150.80C704.75,151.33 714.67,152.19 723.00,153.10C731.33,154.01 740.67,155.42 748.00,156.25C755.33,157.08 759.17,157.66 767.00,158.10C774.83,158.54 786.58,158.96 795.00,158.90C803.42,158.84 811.25,158.40 817.50,157.75C823.75,157.10 827.92,155.88 832.50,155.00C837.08,154.12 840.83,153.08 845.00,152.50C849.17,151.92 853.33,151.92 857.50,151.50C861.67,151.08 866.46,150.29 870.00,150.00C873.54,149.71 877.29,149.79 878.75,149.75" fill="none" stroke="#e2262f" stroke-width="2.0" stroke-linejoin="round" stroke-linecap="round"/>
<path d="M4.40,81.90C5.75,81.17 9.48,79.07 12.50,77.50C15.52,75.93 19.17,74.17 22.50,72.50C25.83,70.83 29.17,69.00 32.50,67.50C35.83,66.00 39.17,64.58 42.50,63.50C45.83,62.42 49.17,61.68 52.50,61.00C55.83,60.32 59.58,59.98 62.50,59.40C65.42,58.82 67.08,57.98 70.00,57.50C72.92,57.02 76.67,56.67 80.00,56.50C83.33,56.33 87.08,56.17 90.00,56.50C92.92,56.83 94.58,57.92 97.50,58.50C100.42,59.08 104.25,59.52 107.50,60.00C110.75,60.48 113.98,60.95 117.00,61.40C120.02,61.85 123.33,62.07 125.60,62.70C127.87,63.33 128.03,63.23 130.60,65.20C133.17,67.17 137.68,71.58 141.00,74.50C144.32,77.42 148.03,80.17 150.50,82.75C152.97,85.33 154.13,88.22 155.80,90.00C157.47,91.78 158.26,91.90 160.50,93.40C162.74,94.90 165.75,97.37 169.25,99.00C172.75,100.63 177.71,101.87 181.50,103.20C185.29,104.53 189.58,106.07 192.00,107.00C194.42,107.93 193.50,108.51 196.00,108.80C198.50,109.09 204.25,108.72 207.00,108.75C209.75,108.78 210.33,108.69 212.50,109.00C214.67,109.31 217.08,110.18 220.00,110.60C222.92,111.02 227.29,110.97 230.00,111.50C232.71,112.03 233.96,112.96 236.25,113.75C238.54,114.54 241.46,115.00 243.75,116.25C246.04,117.50 247.71,119.58 250.00,121.25C252.29,122.92 255.00,124.17 257.50,126.25C260.00,128.33 262.50,131.46 265.00,133.75C267.50,136.04 270.00,137.92 272.50,140.00C275.00,142.08 277.71,144.60 280.00,146.25C282.29,147.90 284.17,149.24 286.25,149.90C288.33,150.56 290.21,150.35 292.50,150.20C294.79,150.05 296.88,149.53 300.00,149.00C303.12,148.47 307.33,147.58 311.25,147.00C315.17,146.42 319.38,145.78 323.50,145.50C327.62,145.22 331.83,145.38 336.00,145.30C340.17,145.22 344.33,144.92 348.50,145.00C352.67,145.08 356.83,145.37 361.00,145.80C365.17,146.23 369.33,146.75 373.50,147.60C377.67,148.45 382.29,149.73 386.00,150.90C389.71,152.07 392.58,153.70 395.75,154.60C398.92,155.50 402.29,155.92 405.00,156.30C407.71,156.68 408.75,156.53 412.00,156.90C415.25,157.27 420.33,157.88 424.50,158.50C428.67,159.12 432.83,160.18 437.00,160.60C441.17,161.02 445.50,160.83 449.50,161.00C453.50,161.17 457.17,161.77 461.00,161.60C464.83,161.43 469.12,160.87 472.50,160.00C475.88,159.13 478.12,157.97 481.25,156.40C484.38,154.83 487.50,152.92 491.25,150.60C495.00,148.28 500.21,144.37 503.75,142.50C507.29,140.63 509.79,140.23 512.50,139.40C515.21,138.57 517.50,137.61 520.00,137.50C522.50,137.39 524.17,137.92 527.50,138.75C530.83,139.58 536.25,141.50 540.00,142.50C543.75,143.50 547.71,143.92 550.00,144.75C552.29,145.58 551.67,146.88 553.75,147.50C555.83,148.12 559.62,147.78 562.50,148.50C565.38,149.22 568.50,150.93 571.00,151.80C573.50,152.68 575.17,152.80 577.50,153.75C579.83,154.70 582.50,155.83 585.00,157.50C587.50,159.17 590.50,161.75 592.50,163.75C594.50,165.75 595.65,167.58 597.00,169.50C598.35,171.42 598.43,174.29 600.60,175.25C602.77,176.21 606.10,175.09 610.00,175.25C613.90,175.41 620.33,175.54 624.00,176.20C627.67,176.86 628.92,178.15 632.00,179.20C635.08,180.25 639.33,181.65 642.50,182.50C645.67,183.35 648.00,183.93 651.00,184.30C654.00,184.68 656.83,185.01 660.50,184.75C664.17,184.49 668.83,183.58 673.00,182.75C677.17,181.92 681.33,180.21 685.50,179.75C689.67,179.29 693.83,180.06 698.00,180.00C702.17,179.94 706.96,179.78 710.50,179.40C714.04,179.03 716.54,178.03 719.25,177.75C721.96,177.47 724.04,177.17 726.75,177.75C729.46,178.33 732.29,180.11 735.50,181.25C738.71,182.39 742.58,183.78 746.00,184.60C749.42,185.42 752.50,185.88 756.00,186.20C759.50,186.52 763.42,186.62 767.00,186.50C770.58,186.38 773.75,186.00 777.50,185.50C781.25,185.00 785.54,184.65 789.50,183.50C793.46,182.35 797.33,180.15 801.25,178.60C805.17,177.05 809.88,175.63 813.00,174.20C816.12,172.77 817.79,171.53 820.00,170.00C822.21,168.47 823.75,166.83 826.25,165.00C828.75,163.17 831.88,161.29 835.00,159.00C838.12,156.71 842.29,152.96 845.00,151.25C847.71,149.54 848.12,149.79 851.25,148.75C854.38,147.71 860.62,145.94 863.75,145.00C866.88,144.06 867.50,143.97 870.00,143.10C872.50,142.22 877.29,140.31 878.75,139.75" fill="none" stroke="#ff8e0a" stroke-width="2.0" stroke-linejoin="round" stroke-linecap="round"/>
<line x1="2" x2="886" y1="117.5" y2="117.5" stroke="#87949a" stroke-width="1" shape-rendering="crispEdges"/>
<g font-family="'DejaVu Sans',sans-serif" font-size="10" fill="#1f8ffc" text-anchor="end">
<text x="884.6" y="95.2">71.6 (3388.3</text>
<text x="884.6" y="121.1">61.8 (3352.3</text>
<text x="884.6" y="185.2">38.2 (3265.5</text>
<text x="884.6" y="224.2">23.6 (3211.9</text>
</g>
<g font-family="'Liberation Sans',sans-serif" font-size="12" fill="#37474f">
<text x="892.3" y="57.7">3452.7</text>
<text x="892.3" y="93.9">3404.3</text>
<text x="892.3" y="128.7">3356.0</text>
<text x="892.3" y="163.9">3307.6</text>
<text x="892.3" y="198.9">3259.2</text>
<text x="892.3" y="234.8">3210.9</text>
<text x="892.3" y="269.9">3162.5</text>
<text x="892.3" y="300.2">3114.2</text>
<text x="892.3" y="312.6">51.21991</text>
<text x="892.3" y="332.4">17.07330</text>
<text x="892.3" y="359.8">-17.0733</text>
<text x="892.3" y="381.7">-51.2199</text>
<text x="892.3" y="399.8">70.0</text>
<text x="892.3" y="423.7">0.0</text>
<text x="4.4" y="437">25.02.2026 10:00</text>
<text x="150.2" y="437">03.03 14:00</text>
<text x="298" y="437">10.03 09:00</text>
<text x="444.6" y="437">16.03 13:00</text>
<text x="590.6" y="437">23.03 08:00</text>
<text x="736.6" y="437">27.03 12:00</text>
</g>
<path d="M883.7,117.5 L889.4,109.1 L940.8,109.1 L940.8,126 L889.4,126 Z" fill="#84929a"/>
<text x="892.6" y="122.7" font-family="'Liberation Sans',sans-serif" font-size="12.3" fill="#fff" stroke="#fff" stroke-width="0.35">3364.6</text>
<text x="830.4" y="285.2" font-family="'Liberation Sans',sans-serif" font-size="14.2"><tspan fill="#ff9a1a">59</tspan><tspan fill="#a6a6a6">m </tspan><tspan fill="#ff9a1a">24</tspan><tspan fill="#a6a6a6">s</tspan></text>
<text x="20" y="23.6" font-family="'Liberation Sans',sans-serif" font-size="12.2" font-weight="bold" fill="#37474f">W20</text>
<text x="47.8" y="22.1" font-family="'Liberation Sans',sans-serif" font-size="7.5" font-weight="bold" fill="#7f8c92">CFD</text>
<path d="M71.9,16.8 h7.0 l-3.5,3.3 z" fill="#7a7a7a"/>
<text x="119.2" y="22.9" font-family="'Liberation Sans',sans-serif" font-size="9.6" fill="#6b6b6b">H1</text>
<path d="M147.9,16.8 h7.0 l-3.5,3.3 z" fill="#7a7a7a"/>
<g>
<rect x="3.0" y="338.5" width="3" height="2.5" fill="#0f7bc8"/>
<rect x="6.0" y="338.5" width="3" height="2.5" fill="#0f7bc8"/>
<rect x="10.0" y="338.1" width="3" height="2.9" fill="#0f7bc8"/>
<rect x="13.0" y="338.1" width="3" height="2.9" fill="#0f7bc8"/>
<rect x="17.0" y="337.9" width="3" height="3.1" fill="#0f7bc8"/>
<rect x="21.0" y="338.5" width="3" height="2.5" fill="#0f7bc8"/>
<rect x="24.0" y="339.2" width="3" height="1.8" fill="#0f7bc8"/>
<rect x="28.0" y="339.9" width="3" height="1.1" fill="#0f7bc8"/>
<rect x="32.0" y="339.9" width="3" height="1.1" fill="#0f7bc8"/>
<rect x="39.0" y="340.9" width="3" height="1.5" fill="#d00000"/>
<rect x="43.0" y="340.9" width="3" height="1.5" fill="#d00000"/>
<rect x="46.0" y="340.9" width="3" height="1.5" fill="#d00000"/>
<rect x="50.0" y="340.9" width="3" height="1.5" fill="#d00000"/>
<rect x="54.0" y="340.9" width="3" height="1.5" fill="#d00000"/>
<rect x="57.0" y="340.9" width="3" height="2.7" fill="#d00000"/>
<rect x="61.0" y="340.9" width="3" height="2.0" fill="#d00000"/>
<rect x="65.0" y="340.9" width="3" height="2.0" fill="#d00000"/>
<rect x="68.0" y="340.9" width="3" height="2.0" fill="#d00000"/>
<rect x="72.0" y="340.9" width="3" height="2.0" fill="#d00000"/>
<rect x="76.0" y="340.9" width="3" height="1.5" fill="#d00000"/>
<rect x="79.0" y="340.9" width="3" height="1.5" fill="#d00000"/>
<rect x="83.0" y="340.9" width="3" height="2.0" fill="#d00000"/>
<rect x="87.0" y="340.9" width="3" height="2.0" fill="#d00000"/>
<rect x="90.0" y="340.9" width="3" height="2.0" fill="#d00000"/>
<rect x="94.0" y="340.9" width="3" height="5.7" fill="#d00000"/>
<rect x="98.0" y="340.9" width="3" height="5.7" fill="#d00000"/>
<rect x="101.0" y="340.9" width="3" height="4.4" fill="#d00000"/>
<rect x="105.0" y="340.9" width="3" height="2.7" fill="#d00000"/>
<rect x="109.0" y="340.9" width="3" height="2.7" fill="#d00000"/>
<rect x="112.0" y="340.9" width="3" height="2.7" fill="#d00000"/>
<rect x="116.0" y="340.9" width="3" height="2.7" fill="#d00000"/>
<rect x="120.0" y="340.9" width="3" height="2.7" fill="#d00000"/>
<rect x="123.0" y="340.9" width="3" height="2.7" fill="#d00000"/>
<rect x="127.0" y="340.9" width="3" height="5.3" fill="#d00000"/>
<rect x="131.0" y="340.9" width="3" height="5.3" fill="#d00000"/>
<rect x="134.0" y="340.9" width="3" height="8.6" fill="#d00000"/>
<rect x="138.0" y="340.9" width="3" height="10.9" fill="#d00000"/>
<rect x="142.0" y="340.9" width="3" height="10.9" fill="#d00000"/>
<rect x="145.0" y="340.9" width="3" height="9.9" fill="#d00000"/>
<rect x="149.0" y="340.9" width="3" height="9.9" fill="#d00000"/>
<rect x="153.0" y="340.9" width="3" height="7.5" fill="#d00000"/>
<rect x="156.0" y="340.9" width="3" height="6.2" fill="#d00000"/>
<rect x="160.0" y="340.9" width="3" height="6.2" fill="#d00000"/>
<rect x="164.0" y="340.9" width="3" height="3.5" fill="#d00000"/>
<rect x="167.0" y="338.8" width="3" height="2.2" fill="#0f7bc8"/>
<rect x="171.0" y="337.9" width="3" height="3.1" fill="#0f7bc8"/>
<rect x="175.0" y="336.1" width="3" height="4.9" fill="#0f7bc8"/>
<rect x="178.0" y="334.2" width="3" height="6.8" fill="#0f7bc8"/>
<rect x="182.0" y="334.2" width="3" height="6.8" fill="#0f7bc8"/>
<rect x="186.0" y="335.1" width="3" height="5.9" fill="#0f7bc8"/>
<rect x="189.0" y="335.1" width="3" height="5.9" fill="#0f7bc8"/>
<rect x="193.0" y="335.1" width="3" height="5.9" fill="#0f7bc8"/>
<rect x="197.0" y="335.5" width="3" height="5.5" fill="#0f7bc8"/>
<rect x="200.0" y="334.2" width="3" height="6.8" fill="#0f7bc8"/>
<rect x="204.0" y="334.2" width="3" height="6.8" fill="#0f7bc8"/>
<rect x="208.0" y="335.1" width="3" height="5.9" fill="#0f7bc8"/>
<rect x="211.0" y="335.5" width="3" height="5.5" fill="#0f7bc8"/>
<rect x="215.0" y="337.9" width="3" height="3.1" fill="#0f7bc8"/>
<rect x="219.0" y="338.8" width="3" height="2.2" fill="#0f7bc8"/>
<rect x="222.0" y="339.4" width="3" height="1.6" fill="#0f7bc8"/>
<rect x="226.0" y="339.4" width="3" height="1.6" fill="#0f7bc8"/>
<rect x="230.0" y="340.0" width="3" height="1.0" fill="#0f7bc8"/>
<rect x="233.0" y="340.9" width="3" height="1.5" fill="#d00000"/>
<rect x="237.0" y="340.9" width="3" height="1.5" fill="#d00000"/>
<rect x="241.0" y="340.9" width="3" height="2.5" fill="#d00000"/>
<rect x="244.0" y="340.9" width="3" height="4.9" fill="#d00000"/>
<rect x="248.0" y="340.9" width="3" height="4.9" fill="#d00000"/>
<rect x="252.0" y="340.9" width="3" height="5.3" fill="#d00000"/>
<rect x="255.0" y="340.9" width="3" height="5.7" fill="#d00000"/>
<rect x="259.0" y="340.9" width="3" height="5.7" fill="#d00000"/>
<rect x="263.0" y="340.9" width="3" height="7.5" fill="#d00000"/>
<rect x="266.0" y="340.9" width="3" height="6.2" fill="#d00000"/>
<rect x="270.0" y="340.9" width="3" height="6.2" fill="#d00000"/>
<rect x="274.0" y="340.9" width="3" height="4.4" fill="#d00000"/>
<rect x="277.0" y="340.9" width="3" height="2.5" fill="#d00000"/>
<rect x="281.0" y="340.9" width="3" height="1.6" fill="#d00000"/>
<rect x="285.0" y="339.7" width="3" height="1.3" fill="#0f7bc8"/>
<rect x="288.0" y="337.9" width="3" height="3.1" fill="#0f7bc8"/>
<rect x="292.0" y="334.2" width="3" height="6.8" fill="#0f7bc8"/>
<rect x="296.0" y="331.4" width="3" height="9.6" fill="#0f7bc8"/>
<rect x="299.0" y="328.1" width="3" height="12.9" fill="#0f7bc8"/>
<rect x="303.0" y="328.1" width="3" height="12.9" fill="#0f7bc8"/>
<rect x="306.0" y="329.6" width="3" height="11.4" fill="#0f7bc8"/>
<rect x="310.0" y="331.4" width="3" height="9.6" fill="#0f7bc8"/>
<rect x="314.0" y="333.3" width="3" height="7.7" fill="#0f7bc8"/>
<rect x="317.0" y="334.8" width="3" height="6.2" fill="#0f7bc8"/>
<rect x="321.0" y="336.1" width="3" height="4.9" fill="#0f7bc8"/>
<rect x="325.0" y="337.9" width="3" height="3.1" fill="#0f7bc8"/>
<rect x="328.0" y="338.5" width="3" height="2.5" fill="#0f7bc8"/>
<rect x="332.0" y="338.5" width="3" height="2.5" fill="#0f7bc8"/>
<rect x="350.0" y="340.0" width="3" height="1.0" fill="#0f7bc8"/>
<rect x="354.0" y="340.0" width="3" height="1.0" fill="#0f7bc8"/>
<rect x="361.0" y="340.9" width="3" height="1.5" fill="#d00000"/>
<rect x="365.0" y="340.9" width="3" height="1.5" fill="#d00000"/>
<rect x="369.0" y="340.9" width="3" height="1.5" fill="#d00000"/>
<rect x="372.0" y="340.9" width="3" height="2.5" fill="#d00000"/>
<rect x="376.0" y="340.9" width="3" height="2.5" fill="#d00000"/>
<rect x="380.0" y="340.9" width="3" height="3.5" fill="#d00000"/>
<rect x="383.0" y="340.9" width="3" height="4.8" fill="#d00000"/>
<rect x="387.0" y="340.9" width="3" height="3.5" fill="#d00000"/>
<rect x="391.0" y="340.9" width="3" height="3.5" fill="#d00000"/>
<rect x="394.0" y="340.9" width="3" height="2.5" fill="#d00000"/>
<rect x="398.0" y="340.9" width="3" height="1.5" fill="#d00000"/>
<rect x="402.0" y="340.9" width="3" height="1.5" fill="#d00000"/>
<rect x="409.0" y="339.4" width="3" height="1.6" fill="#0f7bc8"/>
<rect x="413.0" y="339.4" width="3" height="1.6" fill="#0f7bc8"/>
<rect x="416.0" y="340.0" width="3" height="1.0" fill="#0f7bc8"/>
<rect x="420.0" y="340.0" width="3" height="1.0" fill="#0f7bc8"/>
<rect x="424.0" y="340.0" width="3" height="1.0" fill="#0f7bc8"/>
<rect x="427.0" y="340.0" width="3" height="1.0" fill="#0f7bc8"/>
<rect x="431.0" y="340.9" width="3" height="1.5" fill="#d00000"/>
<rect x="435.0" y="340.9" width="3" height="1.5" fill="#d00000"/>
<rect x="442.0" y="339.9" width="3" height="1.1" fill="#0f7bc8"/>
<rect x="446.0" y="339.4" width="3" height="1.6" fill="#0f7bc8"/>
<rect x="449.0" y="339.4" width="3" height="1.6" fill="#0f7bc8"/>
<rect x="453.0" y="339.0" width="3" height="2.0" fill="#0f7bc8"/>
<rect x="457.0" y="338.8" width="3" height="2.2" fill="#0f7bc8"/>
<rect x="460.0" y="338.8" width="3" height="2.2" fill="#0f7bc8"/>
<rect x="464.0" y="338.5" width="3" height="2.5" fill="#0f7bc8"/>
<rect x="468.0" y="337.9" width="3" height="3.1" fill="#0f7bc8"/>
<rect x="471.0" y="337.0" width="3" height="4.0" fill="#0f7bc8"/>
<rect x="475.0" y="336.1" width="3" height="4.9" fill="#0f7bc8"/>
<rect x="479.0" y="335.1" width="3" height="5.9" fill="#0f7bc8"/>
<rect x="482.0" y="334.8" width="3" height="6.2" fill="#0f7bc8"/>
<rect x="486.0" y="334.8" width="3" height="6.2" fill="#0f7bc8"/>
<rect x="490.0" y="335.1" width="3" height="5.9" fill="#0f7bc8"/>
<rect x="493.0" y="335.1" width="3" height="5.9" fill="#0f7bc8"/>
<rect x="497.0" y="335.1" width="3" height="5.9" fill="#0f7bc8"/>
<rect x="501.0" y="336.1" width="3" height="4.9" fill="#0f7bc8"/>
<rect x="504.0" y="337.5" width="3" height="3.5" fill="#0f7bc8"/>
<rect x="508.0" y="339.4" width="3" height="1.6" fill="#0f7bc8"/>
<rect x="512.0" y="340.9" width="3" height="1.5" fill="#d00000"/>
<rect x="515.0" y="340.9" width="3" height="3.1" fill="#d00000"/>
<rect x="519.0" y="340.9" width="3" height="3.1" fill="#d00000"/>
<rect x="523.0" y="340.9" width="3" height="5.3" fill="#d00000"/>
<rect x="526.0" y="340.9" width="3" height="7.5" fill="#d00000"/>
<rect x="530.0" y="340.9" width="3" height="7.5" fill="#d00000"/>
<rect x="534.0" y="340.9" width="3" height="8.1" fill="#d00000"/>
<rect x="537.0" y="340.9" width="3" height="8.1" fill="#d00000"/>
<rect x="541.0" y="340.9" width="3" height="8.1" fill="#d00000"/>
<rect x="545.0" y="340.9" width="3" height="7.5" fill="#d00000"/>
<rect x="548.0" y="340.9" width="3" height="6.2" fill="#d00000"/>
<rect x="552.0" y="340.9" width="3" height="6.2" fill="#d00000"/>
<rect x="556.0" y="340.9" width="3" height="3.8" fill="#d00000"/>
<rect x="559.0" y="340.9" width="3" height="2.5" fill="#d00000"/>
<rect x="563.0" y="340.9" width="3" height="2.5" fill="#d00000"/>
<rect x="567.0" y="340.9" width="3" height="2.5" fill="#d00000"/>
<rect x="570.0" y="340.9" width="3" height="2.0" fill="#d00000"/>
<rect x="574.0" y="340.9" width="3" height="2.0" fill="#d00000"/>
<rect x="578.0" y="340.9" width="3" height="2.5" fill="#d00000"/>
<rect x="581.0" y="340.9" width="3" height="3.8" fill="#d00000"/>
<rect x="585.0" y="340.9" width="3" height="3.8" fill="#d00000"/>
<rect x="589.0" y="340.9" width="3" height="6.2" fill="#d00000"/>
<rect x="592.0" y="340.9" width="3" height="9.0" fill="#d00000"/>
<rect x="596.0" y="340.9" width="3" height="9.0" fill="#d00000"/>
<rect x="599.0" y="340.9" width="3" height="10.9" fill="#d00000"/>
<rect x="603.0" y="340.9" width="3" height="4.9" fill="#d00000"/>
<rect x="607.0" y="340.9" width="3" height="4.9" fill="#d00000"/>
<rect x="610.0" y="336.1" width="3" height="4.9" fill="#0f7bc8"/>
<rect x="614.0" y="333.3" width="3" height="7.7" fill="#0f7bc8"/>
<rect x="618.0" y="331.1" width="3" height="9.9" fill="#0f7bc8"/>
<rect x="621.0" y="331.1" width="3" height="9.9" fill="#0f7bc8"/>
<rect x="625.0" y="334.2" width="3" height="6.8" fill="#0f7bc8"/>
<rect x="629.0" y="336.1" width="3" height="4.9" fill="#0f7bc8"/>
<rect x="632.0" y="337.3" width="3" height="3.7" fill="#0f7bc8"/>
<rect x="636.0" y="338.5" width="3" height="2.5" fill="#0f7bc8"/>
<rect x="640.0" y="339.2" width="3" height="1.8" fill="#0f7bc8"/>
<rect x="643.0" y="339.9" width="3" height="1.1" fill="#0f7bc8"/>
<rect x="647.0" y="340.0" width="3" height="1.0" fill="#0f7bc8"/>
<rect x="651.0" y="340.0" width="3" height="1.0" fill="#0f7bc8"/>
<rect x="654.0" y="338.5" width="3" height="2.5" fill="#0f7bc8"/>
<rect x="658.0" y="337.0" width="3" height="4.0" fill="#0f7bc8"/>
<rect x="662.0" y="335.5" width="3" height="5.5" fill="#0f7bc8"/>
<rect x="665.0" y="335.1" width="3" height="5.9" fill="#0f7bc8"/>
<rect x="669.0" y="334.2" width="3" height="6.8" fill="#0f7bc8"/>
<rect x="673.0" y="334.2" width="3" height="6.8" fill="#0f7bc8"/>
<rect x="676.0" y="335.1" width="3" height="5.9" fill="#0f7bc8"/>
<rect x="680.0" y="335.1" width="3" height="5.9" fill="#0f7bc8"/>
<rect x="684.0" y="336.1" width="3" height="4.9" fill="#0f7bc8"/>
<rect x="687.0" y="338.5" width="3" height="2.5" fill="#0f7bc8"/>
<rect x="691.0" y="339.4" width="3" height="1.6" fill="#0f7bc8"/>
<rect x="695.0" y="339.4" width="3" height="1.6" fill="#0f7bc8"/>
<rect x="702.0" y="340.9" width="3" height="1.5" fill="#d00000"/>
<rect x="706.0" y="340.9" width="3" height="1.5" fill="#d00000"/>
<rect x="709.0" y="340.9" width="3" height="1.5" fill="#d00000"/>
<rect x="713.0" y="340.9" width="3" height="1.5" fill="#d00000"/>
<rect x="717.0" y="340.9" width="3" height="1.5" fill="#d00000"/>
<rect x="724.0" y="340.9" width="3" height="3.1" fill="#d00000"/>
<rect x="728.0" y="340.9" width="3" height="3.1" fill="#d00000"/>
<rect x="731.0" y="340.9" width="3" height="5.7" fill="#d00000"/>
<rect x="735.0" y="340.9" width="3" height="5.7" fill="#d00000"/>
<rect x="739.0" y="340.9" width="3" height="5.7" fill="#d00000"/>
<rect x="742.0" y="340.9" width="3" height="4.4" fill="#d00000"/>
<rect x="746.0" y="340.9" width="3" height="4.4" fill="#d00000"/>
<rect x="750.0" y="340.9" width="3" height="2.0" fill="#d00000"/>
<rect x="753.0" y="340.9" width="3" height="1.5" fill="#d00000"/>
<rect x="757.0" y="340.9" width="3" height="1.5" fill="#d00000"/>
<rect x="761.0" y="339.9" width="3" height="1.1" fill="#0f7bc8"/>
<rect x="764.0" y="339.2" width="3" height="1.8" fill="#0f7bc8"/>
<rect x="768.0" y="339.2" width="3" height="1.8" fill="#0f7bc8"/>
<rect x="772.0" y="338.5" width="3" height="2.5" fill="#0f7bc8"/>
<rect x="775.0" y="338.5" width="3" height="2.5" fill="#0f7bc8"/>
<rect x="779.0" y="338.3" width="3" height="2.7" fill="#0f7bc8"/>
<rect x="783.0" y="338.8" width="3" height="2.2" fill="#0f7bc8"/>
<rect x="786.0" y="338.8" width="3" height="2.2" fill="#0f7bc8"/>
<rect x="790.0" y="337.9" width="3" height="3.1" fill="#0f7bc8"/>
<rect x="794.0" y="337.0" width="3" height="4.0" fill="#0f7bc8"/>
<rect x="797.0" y="337.0" width="3" height="4.0" fill="#0f7bc8"/>
<rect x="801.0" y="336.1" width="3" height="4.9" fill="#0f7bc8"/>
<rect x="805.0" y="336.1" width="3" height="4.9" fill="#0f7bc8"/>
<rect x="808.0" y="337.0" width="3" height="4.0" fill="#0f7bc8"/>
<rect x="812.0" y="337.0" width="3" height="4.0" fill="#0f7bc8"/>
<rect x="816.0" y="337.9" width="3" height="3.1" fill="#0f7bc8"/>
<rect x="819.0" y="336.1" width="3" height="4.9" fill="#0f7bc8"/>
<rect x="823.0" y="334.8" width="3" height="6.2" fill="#0f7bc8"/>
<rect x="827.0" y="333.8" width="3" height="7.2" fill="#0f7bc8"/>
<rect x="830.0" y="334.8" width="3" height="6.2" fill="#0f7bc8"/>
<rect x="834.0" y="334.8" width="3" height="6.2" fill="#0f7bc8"/>
<rect x="838.0" y="336.1" width="3" height="4.9" fill="#0f7bc8"/>
<rect x="841.0" y="337.9" width="3" height="3.1" fill="#0f7bc8"/>
<rect x="845.0" y="339.4" width="3" height="1.6" fill="#0f7bc8"/>
<rect x="852.0" y="340.9" width="3" height="2.5" fill="#d00000"/>
<rect x="856.0" y="340.9" width="3" height="3.5" fill="#d00000"/>
<rect x="860.0" y="340.9" width="3" height="3.8" fill="#d00000"/>
<rect x="863.0" y="340.9" width="3" height="2.9" fill="#d00000"/>
<rect x="867.0" y="340.9" width="3" height="2.9" fill="#d00000"/>
<rect x="871.0" y="340.9" width="3" height="2.5" fill="#d00000"/>
<rect x="874.0" y="340.9" width="3" height="2.5" fill="#d00000"/>
<rect x="878.0" y="340.9" width="3" height="2.9" fill="#d00000"/>
</g>
<path d="M3.70,329.60C7.40,328.62 20.97,324.68 25.90,323.70C30.83,322.72 29.92,323.18 33.30,323.70C36.68,324.22 41.88,325.52 46.20,326.80C50.52,328.08 55.18,330.17 59.20,331.40C63.22,332.63 64.77,332.90 70.30,334.20C75.83,335.50 87.48,337.67 92.40,339.20C97.32,340.73 96.72,342.30 99.80,343.40C102.88,344.50 107.50,344.78 110.90,345.80C114.30,346.82 117.42,348.67 120.20,349.50C122.98,350.33 125.45,349.50 127.60,350.80C129.75,352.10 130.33,354.52 133.10,357.30C135.87,360.08 140.82,364.72 144.20,367.50C147.58,370.28 150.63,372.47 153.40,374.00C156.17,375.53 158.63,376.55 160.80,376.70C162.97,376.85 164.87,375.82 166.40,374.90C167.93,373.98 167.25,373.20 170.00,371.20C172.75,369.20 178.28,365.52 182.90,362.90C187.52,360.28 193.38,357.82 197.70,355.50C202.02,353.18 205.42,350.40 208.80,349.00C212.18,347.60 214.60,347.72 218.00,347.10C221.40,346.48 225.80,345.15 229.20,345.30C232.60,345.45 235.32,346.47 238.40,348.00C241.48,349.53 244.62,352.80 247.70,354.50C250.78,356.20 254.45,356.65 256.90,358.20C259.35,359.75 259.93,362.17 262.40,363.80C264.87,365.43 268.92,367.17 271.70,368.00C274.48,368.83 276.33,369.20 279.10,368.80C281.87,368.40 285.53,367.82 288.30,365.60C291.07,363.38 293.23,358.73 295.70,355.50C298.17,352.27 300.63,348.67 303.10,346.20C305.57,343.73 307.42,342.40 310.50,340.70C313.58,339.00 318.52,336.87 321.60,336.00C324.68,335.13 327.15,335.40 329.00,335.50C330.85,335.60 330.85,336.60 332.70,336.60C334.55,336.60 337.35,335.60 340.10,335.50C342.85,335.40 346.13,335.92 349.20,336.00C352.27,336.08 355.42,335.47 358.50,336.00C361.58,336.53 364.62,338.17 367.70,339.20C370.78,340.23 373.92,341.18 377.00,342.20C380.08,343.22 383.12,344.27 386.20,345.30C389.28,346.33 393.03,347.95 395.50,348.40C397.97,348.85 398.85,348.52 401.00,348.00C403.15,347.48 405.62,345.82 408.40,345.30C411.18,344.78 414.32,345.00 417.70,344.90C421.08,344.80 425.63,344.48 428.70,344.70C431.77,344.92 433.63,346.25 436.10,346.20C438.57,346.15 440.42,345.02 443.50,344.40C446.58,343.78 450.90,343.28 454.60,342.50C458.30,341.72 462.62,340.78 465.70,339.70C468.78,338.62 470.63,337.53 473.10,336.00C475.57,334.47 478.03,332.03 480.50,330.50C482.97,328.97 485.43,327.88 487.90,326.80C490.37,325.72 493.45,324.98 495.30,324.00C497.15,323.02 497.30,321.67 499.00,320.90C500.70,320.13 503.65,319.03 505.50,319.40C507.35,319.77 508.12,322.02 510.10,323.10C512.08,324.18 514.33,324.05 517.40,325.90C520.47,327.75 524.80,331.58 528.50,334.20C532.20,336.82 535.90,339.23 539.60,341.60C543.30,343.97 546.70,346.70 550.70,348.40C554.70,350.10 559.60,350.78 563.60,351.80C567.60,352.82 571.00,353.43 574.70,354.50C578.40,355.57 583.03,356.50 585.80,358.20C588.57,359.90 589.45,362.53 591.30,364.70C593.15,366.87 595.35,369.50 596.90,371.20C598.45,372.90 599.37,374.68 600.60,374.90C601.83,375.12 602.77,374.13 604.30,372.50C605.83,370.87 607.33,367.70 609.80,365.10C612.27,362.50 616.02,358.67 619.10,356.90C622.18,355.13 624.92,355.35 628.30,354.50C631.68,353.65 635.70,352.50 639.40,351.80C643.10,351.10 647.42,351.23 650.50,350.30C653.58,349.37 655.43,347.80 657.90,346.20C660.37,344.60 662.83,342.08 665.30,340.70C667.77,339.32 670.23,338.88 672.70,337.90C675.17,336.92 677.97,335.63 680.10,334.80C682.23,333.97 683.37,333.22 685.50,332.90C687.63,332.58 690.43,332.68 692.90,332.90C695.37,333.12 697.52,333.83 700.30,334.20C703.08,334.57 705.90,334.95 709.60,335.10C713.30,335.25 719.12,334.17 722.50,335.10C725.88,336.03 727.73,339.22 729.90,340.70C732.07,342.18 733.03,342.93 735.50,344.00C737.97,345.07 741.93,346.67 744.70,347.10C747.47,347.53 749.33,347.00 752.10,346.60C754.87,346.20 757.92,345.43 761.30,344.70C764.68,343.97 768.70,343.03 772.40,342.20C776.10,341.37 780.42,340.88 783.50,339.70C786.58,338.52 788.12,336.53 790.90,335.10C793.68,333.67 797.12,332.17 800.20,331.10C803.28,330.03 806.63,329.42 809.40,328.70C812.17,327.98 814.33,328.20 816.80,326.80C819.27,325.40 821.73,322.00 824.20,320.30C826.67,318.60 829.13,317.58 831.60,316.60C834.07,315.62 836.85,314.77 839.00,314.40C841.15,314.03 842.67,314.03 844.50,314.40C846.33,314.77 848.17,315.77 850.00,316.60C851.83,317.43 852.73,318.53 855.50,319.40C858.27,320.27 863.83,321.03 866.60,321.80C869.37,322.57 870.10,323.32 872.10,324.00C874.10,324.68 877.52,325.58 878.60,325.90" fill="none" stroke="#3498db" stroke-width="1.25"/>
<path d="M3.70,333.30C6.17,332.53 13.57,330.08 18.50,328.70C23.43,327.32 28.68,325.72 33.30,325.00C37.92,324.28 41.88,324.10 46.20,324.40C50.52,324.70 54.57,325.63 59.20,326.80C63.83,327.97 67.85,329.70 74.00,331.40C80.15,333.10 90.57,335.30 96.10,337.00C101.63,338.70 103.18,339.82 107.20,341.60C111.22,343.38 116.50,346.57 120.20,347.70C123.90,348.83 126.32,347.42 129.40,348.40C132.48,349.38 135.62,351.50 138.70,353.60C141.78,355.70 144.83,358.22 147.90,361.00C150.97,363.78 154.02,368.13 157.10,370.30C160.18,372.47 163.93,373.38 166.40,374.00C168.87,374.62 169.77,374.47 171.90,374.00C174.03,373.53 176.13,372.60 179.20,371.20C182.27,369.80 187.83,367.15 190.30,365.60C192.77,364.05 191.22,363.43 194.00,361.90C196.78,360.37 203.00,358.25 207.00,356.40C211.00,354.55 214.30,352.35 218.00,350.80C221.70,349.25 226.42,347.80 229.20,347.10C231.98,346.40 232.23,346.50 234.70,346.60C237.17,346.70 240.92,346.83 244.00,347.70C247.08,348.57 250.13,350.35 253.20,351.80C256.27,353.25 259.32,354.72 262.40,356.40C265.48,358.08 268.62,360.27 271.70,361.90C274.78,363.53 278.13,365.37 280.90,366.20C283.67,367.03 285.83,367.15 288.30,366.90C290.77,366.65 293.53,365.53 295.70,364.70C297.87,363.87 299.45,363.28 301.30,361.90C303.15,360.52 304.65,358.40 306.80,356.40C308.95,354.40 311.73,352.22 314.20,349.90C316.67,347.58 319.13,344.28 321.60,342.50C324.07,340.72 326.53,340.12 329.00,339.20C331.47,338.28 333.03,337.62 336.40,337.00C339.77,336.38 344.90,335.75 349.20,335.50C353.50,335.25 358.18,335.10 362.20,335.50C366.22,335.90 369.60,336.98 373.30,337.90C377.00,338.82 380.70,339.92 384.40,341.00C388.10,342.08 391.80,343.43 395.50,344.40C399.20,345.37 402.90,346.50 406.60,346.80C410.30,347.10 414.02,346.55 417.70,346.20C421.38,345.85 425.02,344.78 428.70,344.70C432.38,344.62 436.10,345.67 439.80,345.70C443.50,345.73 447.20,345.37 450.90,344.90C454.60,344.43 458.30,343.67 462.00,342.90C465.70,342.13 469.40,341.45 473.10,340.30C476.80,339.15 480.82,337.63 484.20,336.00C487.58,334.37 490.32,332.18 493.40,330.50C496.48,328.82 499.92,327.12 502.70,325.90C505.48,324.68 507.03,323.67 510.10,323.20C513.17,322.73 517.42,322.18 521.10,323.10C524.78,324.02 528.50,326.55 532.20,328.70C535.90,330.85 539.60,333.38 543.30,336.00C547.00,338.62 550.70,342.23 554.40,344.40C558.10,346.57 561.50,347.62 565.50,349.00C569.50,350.38 574.40,351.47 578.40,352.70C582.40,353.93 586.12,354.70 589.50,356.40C592.88,358.10 595.93,361.05 598.70,362.90C601.47,364.75 603.93,366.52 606.10,367.50C608.27,368.48 609.53,368.90 611.70,368.80C613.87,368.70 616.33,368.35 619.10,366.90C621.87,365.45 624.92,362.17 628.30,360.10C631.68,358.03 635.70,355.88 639.40,354.50C643.10,353.12 646.80,352.72 650.50,351.80C654.20,350.88 658.20,350.00 661.60,349.00C665.00,348.00 668.13,347.18 670.90,345.80C673.67,344.42 675.15,342.42 678.20,340.70C681.25,338.98 685.82,336.68 689.20,335.50C692.58,334.32 694.48,333.88 698.50,333.60C702.52,333.32 708.98,333.60 713.30,333.80C717.62,334.00 721.02,334.12 724.40,334.80C727.78,335.48 730.52,336.77 733.60,337.90C736.68,339.03 739.82,340.52 742.90,341.60C745.98,342.68 749.03,343.72 752.10,344.40C755.17,345.08 757.92,345.65 761.30,345.70C764.68,345.75 768.70,345.28 772.40,344.70C776.10,344.12 779.80,343.18 783.50,342.20C787.20,341.22 790.90,340.03 794.60,338.80C798.30,337.57 802.62,336.08 805.70,334.80C808.78,333.52 810.63,332.12 813.10,331.10C815.57,330.08 818.03,329.72 820.50,328.70C822.97,327.68 825.13,326.33 827.90,325.00C830.67,323.67 834.02,322.10 837.10,320.70C840.18,319.30 843.63,317.43 846.40,316.60C849.17,315.77 851.27,315.63 853.70,315.70C856.13,315.77 858.23,316.38 861.00,317.00C863.77,317.62 867.37,318.47 870.30,319.40C873.23,320.33 877.22,322.07 878.60,322.60" fill="none" stroke="#e02b2b" stroke-width="1.25"/>
<polyline points="4.10,395.20 11.10,393.70 18.50,391.90 22.20,393.70 25.90,393.20 31.40,395.60 37.00,398.90 44.40,398.40 51.80,399.30 55.50,403.00 59.20,404.80 62.90,400.20 66.60,403.00 75.80,402.00 85.00,404.80 91.50,405.20 95.80,412.60 99.80,407.00 103.50,404.80 109.10,404.80 116.50,408.20 124.80,405.20 132.20,412.60 140.50,413.70 146.00,412.60 151.60,413.10 158.10,415.00 160.80,413.10 168.20,404.50 176.00,405.00 182.90,404.80 187.60,405.70 191.30,403.00 195.00,403.90 202.40,400.60 214.40,402.00 216.20,403.50 219.90,401.50 223.60,404.80 226.40,401.50 234.70,407.00 237.50,405.70 244.00,408.50 249.50,410.00 253.20,409.40 256.90,407.60 259.70,411.80 264.30,411.80 268.00,409.40 270.80,410.00 275.40,408.10 279.10,408.90 282.80,407.60 289.20,403.90 292.90,398.90 301.30,397.80 305.00,398.90 312.40,398.90 315.10,399.80 319.80,398.90 323.40,399.80 329.90,403.00 333.60,403.90 336.40,400.20 340.10,401.80 349.20,400.60 356.60,403.00 359.40,402.00 369.60,404.80 375.10,405.40 385.30,408.20 389.00,404.80 391.80,406.70 399.20,405.20 402.90,403.00 410.30,403.90 414.00,402.00 418.60,405.20 425.00,403.90 432.40,407.00 436.10,403.00 439.80,403.90 447.20,400.80 458.30,403.00 462.00,402.00 465.70,398.90 473.10,397.80 480.50,393.70 483.30,393.70 487.00,395.60 491.60,393.70 495.30,393.40 498.10,391.90 505.50,394.70 508.60,402.00 512.90,401.10 519.20,402.60 524.80,406.30 528.50,406.70 531.30,405.70 534.00,407.20 537.70,407.60 542.40,410.00 546.00,408.90 552.50,410.00 557.10,405.40 560.80,406.70 565.50,409.40 569.20,409.80 572.90,407.60 575.60,408.10 583.00,411.80 585.80,410.00 589.50,415.00 596.90,415.00 600.60,415.90 605.20,404.80 608.00,402.00 611.70,402.60 616.30,401.50 622.80,401.70 627.40,404.80 632.00,403.90 637.60,403.90 645.00,405.70 648.70,404.50 652.40,403.50 656.10,400.80 661.60,400.20 667.10,398.90 676.40,398.90 681.90,397.40 684.60,397.10 688.30,400.60 696.60,402.00 705.90,402.00 711.40,400.80 717.90,399.80 721.60,402.00 726.20,406.70 733.60,408.90 737.30,408.90 743.80,407.60 747.50,404.80 752.10,403.90 757.60,403.90 765.00,401.10 772.40,400.60 776.10,398.00 780.80,401.70 783.50,403.00 787.20,400.80 790.90,395.60 794.60,397.80 799.20,396.90 802.00,398.90 806.60,396.90 809.40,397.80 816.80,396.90 820.90,391.90 824.20,394.70 827.90,393.70 831.60,395.00 835.30,393.70 839.00,394.70 842.70,396.90 846.40,395.60 849.70,395.60 853.50,402.60 858.20,400.00 865.80,398.30 873.30,400.80 878.90,400.80" fill="none" stroke="#3c4a50" stroke-width="1.3" stroke-linejoin="round"/>
<g font-family="'Liberation Sans',sans-serif" font-size="9.5" fill="#5a5a5a">
<text x="31.5" y="250.9" textLength="87.6" lengthAdjust="spacingAndGlyphs">EMA [200, 0] 3320.3</text>
<text x="31.5" y="264.9" textLength="82.0" lengthAdjust="spacingAndGlyphs">EMA [50, 0] 3333.1</text>
<text x="31.5" y="278.9" textLength="82.0" lengthAdjust="spacingAndGlyphs">EMA [50, 0] 3333.1</text>
<text x="31.5" y="293.0" textLength="87.6" lengthAdjust="spacingAndGlyphs">EMA [200, 0] 3320.3</text>
<text x="31.5" y="374.7" textLength="163.5" lengthAdjust="spacingAndGlyphs">MACD [14, 30, 7] 19.01677, 22.77049</text>
<text x="31.5" y="420.8" textLength="54.5" lengthAdjust="spacingAndGlyphs">RSI [14] 55.5</text>
</g>
<g fill="#ababab">
<path d="M5.9,240.20 h10.1 v5.6 h-10.1 z M13,241.10 h2.1 v0.7 h-2.1 z M10.9,243.90 h4.2 v1 h-4.2 z" fill-rule="evenodd"/>
<rect x="5.9" y="247.10" width="10.1" height="1.8"/>
</g>
<path d="M19.9,241.90 L26.1,248.10 M26.1,241.90 L19.9,248.10" stroke="#ababab" stroke-width="2.5" fill="none"/>
<g fill="#ababab">
<path d="M5.9,254.20 h10.1 v5.6 h-10.1 z M13,255.10 h2.1 v0.7 h-2.1 z M10.9,257.90 h4.2 v1 h-4.2 z" fill-rule="evenodd"/>
<rect x="5.9" y="261.10" width="10.1" height="1.8"/>
</g>
<path d="M19.9,255.90 L26.1,262.10 M26.1,255.90 L19.9,262.10" stroke="#ababab" stroke-width="2.5" fill="none"/>
<g fill="#ababab">
<path d="M5.9,268.20 h10.1 v5.6 h-10.1 z M13,269.10 h2.1 v0.7 h-2.1 z M10.9,271.90 h4.2 v1 h-4.2 z" fill-rule="evenodd"/>
<rect x="5.9" y="275.10" width="10.1" height="1.8"/>
</g>
<path d="M19.9,269.90 L26.1,276.10 M26.1,269.90 L19.9,276.10" stroke="#ababab" stroke-width="2.5" fill="none"/>
<g fill="#ababab">
<path d="M5.9,282.30 h10.1 v5.6 h-10.1 z M13,283.20 h2.1 v0.7 h-2.1 z M10.9,286.00 h4.2 v1 h-4.2 z" fill-rule="evenodd"/>
<rect x="5.9" y="289.20" width="10.1" height="1.8"/>
</g>
<path d="M19.9,284.00 L26.1,290.20 M26.1,284.00 L19.9,290.20" stroke="#ababab" stroke-width="2.5" fill="none"/>
<g fill="#ababab">
<path d="M5.9,364.00 h10.1 v5.6 h-10.1 z M13,364.90 h2.1 v0.7 h-2.1 z M10.9,367.70 h4.2 v1 h-4.2 z" fill-rule="evenodd"/>
<rect x="5.9" y="370.90" width="10.1" height="1.8"/>
</g>
<path d="M19.9,365.70 L26.1,371.90 M26.1,365.70 L19.9,371.90" stroke="#ababab" stroke-width="2.5" fill="none"/>
<g fill="#ababab">
<path d="M5.9,410.10 h10.1 v5.6 h-10.1 z M13,411.00 h2.1 v0.7 h-2.1 z M10.9,413.80 h4.2 v1 h-4.2 z" fill-rule="evenodd"/>
<rect x="5.9" y="417.00" width="10.1" height="1.8"/>
</g>
<path d="M19.9,411.80 L26.1,418.00 M26.1,411.80 L19.9,418.00" stroke="#ababab" stroke-width="2.5" fill="none"/>
</svg>
</body></html>
